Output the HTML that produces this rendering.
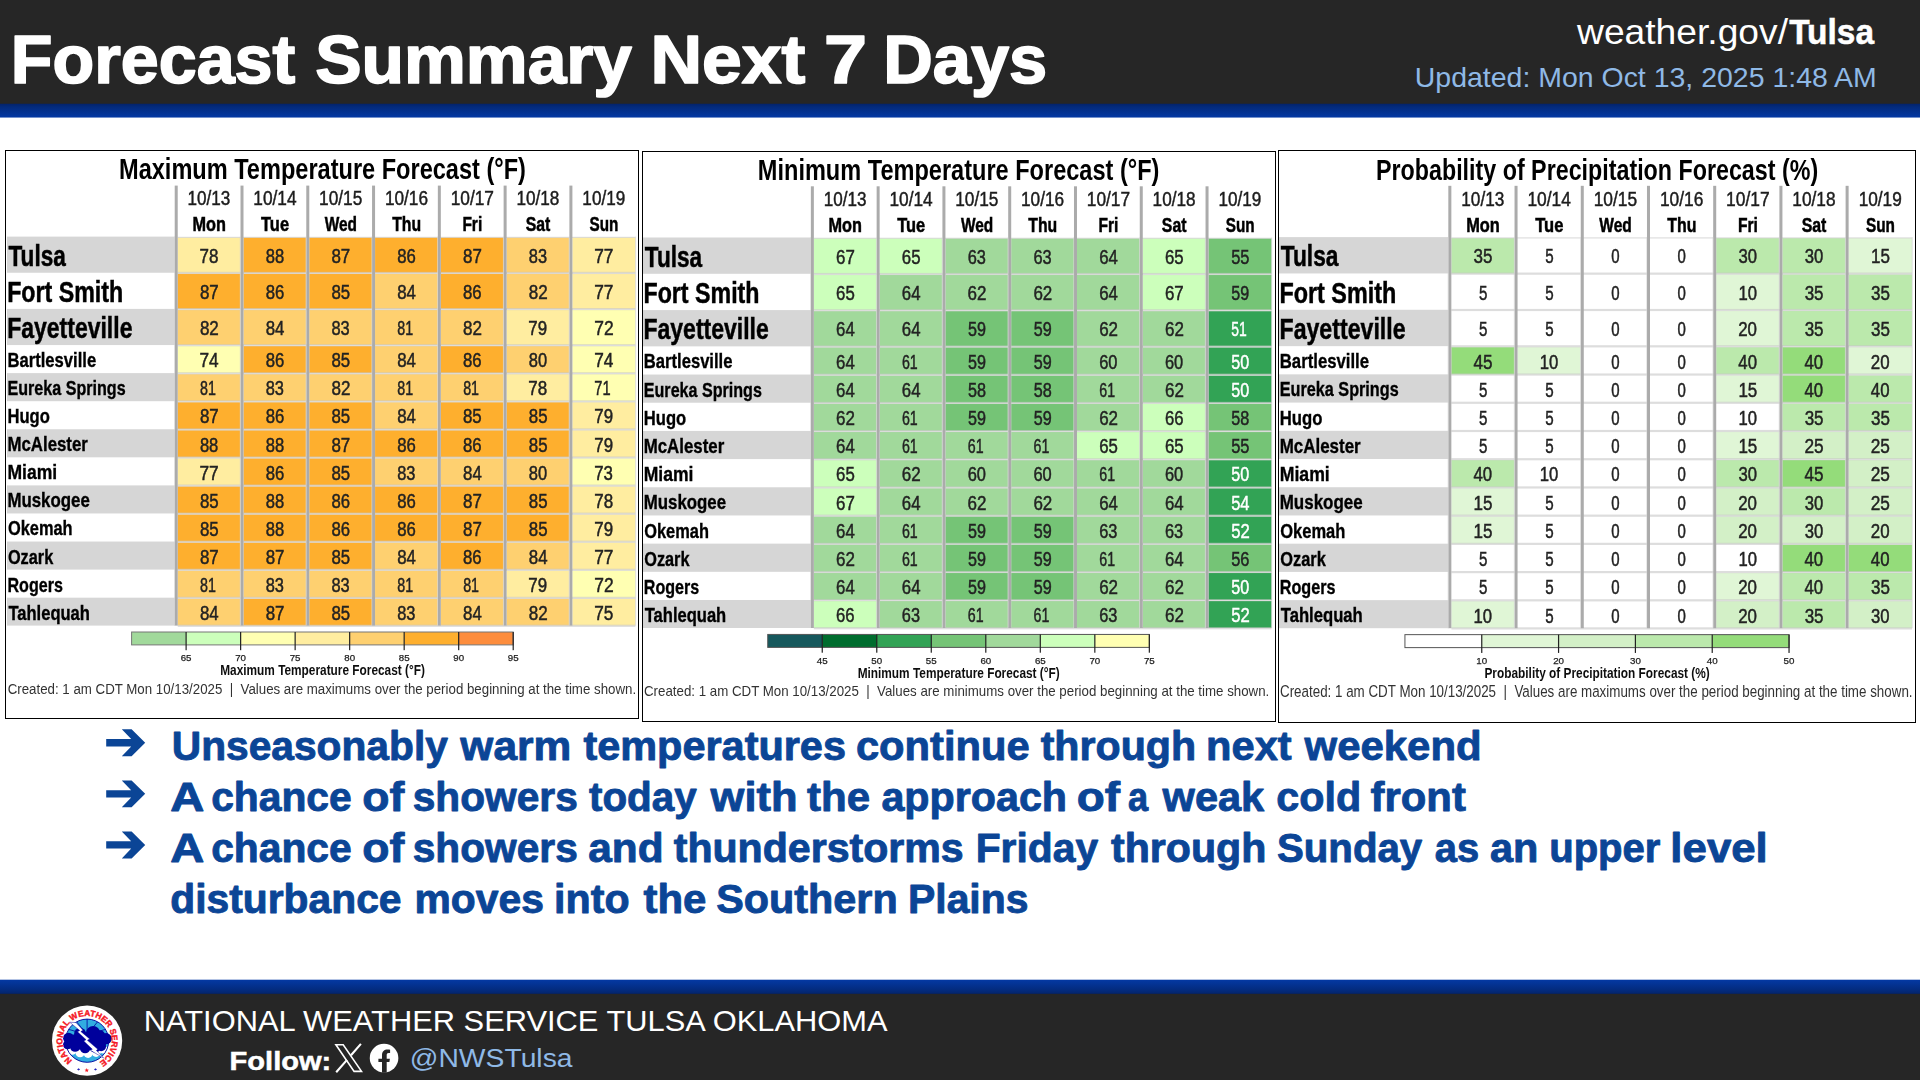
<!DOCTYPE html>
<html lang="en"><head><meta charset="utf-8"><title>Forecast Summary Next 7 Days</title>
<style>
html,body{margin:0;padding:0;background:#fff;width:1920px;height:1080px;overflow:hidden}
svg{display:block}
text{font-family:"Liberation Sans",sans-serif;white-space:pre}
</style></head><body>
<svg width="1920" height="1080" viewBox="0 0 1920 1080">
<defs>
<linearGradient id="g1" x1="0" y1="0" x2="0" y2="1"><stop offset="0" stop-color="#03236a"/><stop offset="0.25" stop-color="#032b7e"/><stop offset="1" stop-color="#0439a4"/></linearGradient>
<linearGradient id="g2" x1="0" y1="0" x2="0" y2="1"><stop offset="0" stop-color="#0439a4"/><stop offset="0.7" stop-color="#032b7e"/><stop offset="1" stop-color="#03236a"/></linearGradient>
<filter id="soft" filterUnits="userSpaceOnUse" x="0" y="140" width="1920" height="600"><feGaussianBlur stdDeviation="0.55"/></filter>
</defs>
<rect x="0" y="0" width="1920" height="1080" fill="#fff"/>
<rect x="0" y="0" width="1920" height="104" fill="#262626"/>
<rect x="0" y="103.75" width="1920" height="13.8" fill="url(#g1)"/>
<text y="83" font-size="68.2" font-weight="bold" fill="#fff" stroke="#fff" stroke-width="1.7" stroke-linejoin="round"><tspan x="10.89" textLength="284.4" lengthAdjust="spacingAndGlyphs">Forecast</tspan> <tspan x="315.25" textLength="316.78" lengthAdjust="spacingAndGlyphs">Summary</tspan> <tspan x="650.47" textLength="154.96" lengthAdjust="spacingAndGlyphs">Next</tspan> <tspan x="824.03" textLength="43.02" lengthAdjust="spacingAndGlyphs">7</tspan> <tspan x="883.26" textLength="164" lengthAdjust="spacingAndGlyphs">Days</tspan></text>
<text y="44.4" font-size="34.5" fill="#fff"><tspan x="1577.05" textLength="210.95" lengthAdjust="spacingAndGlyphs">weather.gov/</tspan></text>
<text y="44.4" font-size="34.5" font-weight="bold" fill="#fff" stroke="#fff" stroke-width="0.5"><tspan x="1789.17" textLength="84.86" lengthAdjust="spacingAndGlyphs">Tulsa</tspan></text>
<text y="86.8" font-size="27.6" fill="#8fb9e6"><tspan x="1414.8" textLength="462.03" lengthAdjust="spacingAndGlyphs">Updated: Mon Oct 13, 2025 1:48 AM</tspan></text>
<rect x="5.5" y="150.5" width="633" height="568" fill="#fff" stroke="#000" stroke-width="1"/>
<g filter="url(#soft)">
<text x="119.02" y="179.4" font-size="28.94" font-weight="bold" textLength="406.93" lengthAdjust="spacingAndGlyphs">Maximum Temperature Forecast (°F)</text>
<rect x="7" y="236.6" width="168.02" height="36.15" fill="#d6d6d6"/>
<rect x="7" y="308.9" width="168.02" height="36.15" fill="#d6d6d6"/>
<rect x="7" y="373.12" width="168.02" height="28.07" fill="#d6d6d6"/>
<rect x="7" y="429.26" width="168.02" height="28.07" fill="#d6d6d6"/>
<rect x="7" y="485.4" width="168.02" height="28.07" fill="#d6d6d6"/>
<rect x="7" y="541.54" width="168.02" height="28.07" fill="#d6d6d6"/>
<rect x="7" y="597.68" width="168.02" height="27.92" fill="#d6d6d6"/>
<rect x="177.72" y="237.6" width="62.78" height="35.15" fill="#ffeda0"/>
<rect x="243.5" y="237.6" width="62.78" height="35.15" fill="#feaf2e"/>
<rect x="309.28" y="237.6" width="62.78" height="35.15" fill="#feaf2e"/>
<rect x="375.06" y="237.6" width="62.78" height="35.15" fill="#feaf2e"/>
<rect x="440.84" y="237.6" width="62.78" height="35.15" fill="#feaf2e"/>
<rect x="506.62" y="237.6" width="62.78" height="35.15" fill="#fed070"/>
<rect x="572.4" y="237.6" width="63" height="35.15" fill="#ffeda0"/>
<rect x="177.72" y="273.75" width="62.78" height="35.15" fill="#feaf2e"/>
<rect x="243.5" y="273.75" width="62.78" height="35.15" fill="#feaf2e"/>
<rect x="309.28" y="273.75" width="62.78" height="35.15" fill="#feaf2e"/>
<rect x="375.06" y="273.75" width="62.78" height="35.15" fill="#fed070"/>
<rect x="440.84" y="273.75" width="62.78" height="35.15" fill="#feaf2e"/>
<rect x="506.62" y="273.75" width="62.78" height="35.15" fill="#fed070"/>
<rect x="572.4" y="273.75" width="63" height="35.15" fill="#ffeda0"/>
<rect x="177.72" y="309.9" width="62.78" height="35.15" fill="#fed070"/>
<rect x="243.5" y="309.9" width="62.78" height="35.15" fill="#fed070"/>
<rect x="309.28" y="309.9" width="62.78" height="35.15" fill="#fed070"/>
<rect x="375.06" y="309.9" width="62.78" height="35.15" fill="#fed070"/>
<rect x="440.84" y="309.9" width="62.78" height="35.15" fill="#fed070"/>
<rect x="506.62" y="309.9" width="62.78" height="35.15" fill="#ffeda0"/>
<rect x="572.4" y="309.9" width="63" height="35.15" fill="#ffffb2"/>
<rect x="177.72" y="346.05" width="62.78" height="27.07" fill="#ffffb2"/>
<rect x="243.5" y="346.05" width="62.78" height="27.07" fill="#feaf2e"/>
<rect x="309.28" y="346.05" width="62.78" height="27.07" fill="#feaf2e"/>
<rect x="375.06" y="346.05" width="62.78" height="27.07" fill="#fed070"/>
<rect x="440.84" y="346.05" width="62.78" height="27.07" fill="#feaf2e"/>
<rect x="506.62" y="346.05" width="62.78" height="27.07" fill="#fed070"/>
<rect x="572.4" y="346.05" width="63" height="27.07" fill="#ffffb2"/>
<rect x="177.72" y="374.12" width="62.78" height="27.07" fill="#fed070"/>
<rect x="243.5" y="374.12" width="62.78" height="27.07" fill="#fed070"/>
<rect x="309.28" y="374.12" width="62.78" height="27.07" fill="#fed070"/>
<rect x="375.06" y="374.12" width="62.78" height="27.07" fill="#fed070"/>
<rect x="440.84" y="374.12" width="62.78" height="27.07" fill="#fed070"/>
<rect x="506.62" y="374.12" width="62.78" height="27.07" fill="#ffeda0"/>
<rect x="572.4" y="374.12" width="63" height="27.07" fill="#ffffb2"/>
<rect x="177.72" y="402.19" width="62.78" height="27.07" fill="#feaf2e"/>
<rect x="243.5" y="402.19" width="62.78" height="27.07" fill="#feaf2e"/>
<rect x="309.28" y="402.19" width="62.78" height="27.07" fill="#feaf2e"/>
<rect x="375.06" y="402.19" width="62.78" height="27.07" fill="#fed070"/>
<rect x="440.84" y="402.19" width="62.78" height="27.07" fill="#feaf2e"/>
<rect x="506.62" y="402.19" width="62.78" height="27.07" fill="#feaf2e"/>
<rect x="572.4" y="402.19" width="63" height="27.07" fill="#ffeda0"/>
<rect x="177.72" y="430.26" width="62.78" height="27.07" fill="#feaf2e"/>
<rect x="243.5" y="430.26" width="62.78" height="27.07" fill="#feaf2e"/>
<rect x="309.28" y="430.26" width="62.78" height="27.07" fill="#feaf2e"/>
<rect x="375.06" y="430.26" width="62.78" height="27.07" fill="#feaf2e"/>
<rect x="440.84" y="430.26" width="62.78" height="27.07" fill="#feaf2e"/>
<rect x="506.62" y="430.26" width="62.78" height="27.07" fill="#feaf2e"/>
<rect x="572.4" y="430.26" width="63" height="27.07" fill="#ffeda0"/>
<rect x="177.72" y="458.33" width="62.78" height="27.07" fill="#ffeda0"/>
<rect x="243.5" y="458.33" width="62.78" height="27.07" fill="#feaf2e"/>
<rect x="309.28" y="458.33" width="62.78" height="27.07" fill="#feaf2e"/>
<rect x="375.06" y="458.33" width="62.78" height="27.07" fill="#fed070"/>
<rect x="440.84" y="458.33" width="62.78" height="27.07" fill="#fed070"/>
<rect x="506.62" y="458.33" width="62.78" height="27.07" fill="#fed070"/>
<rect x="572.4" y="458.33" width="63" height="27.07" fill="#ffffb2"/>
<rect x="177.72" y="486.4" width="62.78" height="27.07" fill="#feaf2e"/>
<rect x="243.5" y="486.4" width="62.78" height="27.07" fill="#feaf2e"/>
<rect x="309.28" y="486.4" width="62.78" height="27.07" fill="#feaf2e"/>
<rect x="375.06" y="486.4" width="62.78" height="27.07" fill="#feaf2e"/>
<rect x="440.84" y="486.4" width="62.78" height="27.07" fill="#feaf2e"/>
<rect x="506.62" y="486.4" width="62.78" height="27.07" fill="#feaf2e"/>
<rect x="572.4" y="486.4" width="63" height="27.07" fill="#ffeda0"/>
<rect x="177.72" y="514.47" width="62.78" height="27.07" fill="#feaf2e"/>
<rect x="243.5" y="514.47" width="62.78" height="27.07" fill="#feaf2e"/>
<rect x="309.28" y="514.47" width="62.78" height="27.07" fill="#feaf2e"/>
<rect x="375.06" y="514.47" width="62.78" height="27.07" fill="#feaf2e"/>
<rect x="440.84" y="514.47" width="62.78" height="27.07" fill="#feaf2e"/>
<rect x="506.62" y="514.47" width="62.78" height="27.07" fill="#feaf2e"/>
<rect x="572.4" y="514.47" width="63" height="27.07" fill="#ffeda0"/>
<rect x="177.72" y="542.54" width="62.78" height="27.07" fill="#feaf2e"/>
<rect x="243.5" y="542.54" width="62.78" height="27.07" fill="#feaf2e"/>
<rect x="309.28" y="542.54" width="62.78" height="27.07" fill="#feaf2e"/>
<rect x="375.06" y="542.54" width="62.78" height="27.07" fill="#fed070"/>
<rect x="440.84" y="542.54" width="62.78" height="27.07" fill="#feaf2e"/>
<rect x="506.62" y="542.54" width="62.78" height="27.07" fill="#fed070"/>
<rect x="572.4" y="542.54" width="63" height="27.07" fill="#ffeda0"/>
<rect x="177.72" y="570.61" width="62.78" height="27.07" fill="#fed070"/>
<rect x="243.5" y="570.61" width="62.78" height="27.07" fill="#fed070"/>
<rect x="309.28" y="570.61" width="62.78" height="27.07" fill="#fed070"/>
<rect x="375.06" y="570.61" width="62.78" height="27.07" fill="#fed070"/>
<rect x="440.84" y="570.61" width="62.78" height="27.07" fill="#fed070"/>
<rect x="506.62" y="570.61" width="62.78" height="27.07" fill="#ffeda0"/>
<rect x="572.4" y="570.61" width="63" height="27.07" fill="#ffffb2"/>
<rect x="177.72" y="598.68" width="62.78" height="26.92" fill="#fed070"/>
<rect x="243.5" y="598.68" width="62.78" height="26.92" fill="#feaf2e"/>
<rect x="309.28" y="598.68" width="62.78" height="26.92" fill="#feaf2e"/>
<rect x="375.06" y="598.68" width="62.78" height="26.92" fill="#fed070"/>
<rect x="440.84" y="598.68" width="62.78" height="26.92" fill="#fed070"/>
<rect x="506.62" y="598.68" width="62.78" height="26.92" fill="#fed070"/>
<rect x="572.4" y="598.68" width="63" height="26.92" fill="#ffeda0"/>
<rect x="177.72" y="236.8" width="457.68" height="1.2" fill="#c8c8c8" fill-opacity="0.6"/>
<rect x="177.72" y="271.85" width="457.68" height="2.2" fill="#c8c8c8" fill-opacity="0.62"/>
<rect x="177.72" y="308" width="457.68" height="2.2" fill="#c8c8c8" fill-opacity="0.62"/>
<rect x="177.72" y="344.15" width="457.68" height="2.2" fill="#c8c8c8" fill-opacity="0.62"/>
<rect x="177.72" y="372.22" width="457.68" height="2.2" fill="#c8c8c8" fill-opacity="0.62"/>
<rect x="177.72" y="400.29" width="457.68" height="2.2" fill="#c8c8c8" fill-opacity="0.62"/>
<rect x="177.72" y="428.36" width="457.68" height="2.2" fill="#c8c8c8" fill-opacity="0.62"/>
<rect x="177.72" y="456.43" width="457.68" height="2.2" fill="#c8c8c8" fill-opacity="0.62"/>
<rect x="177.72" y="484.5" width="457.68" height="2.2" fill="#c8c8c8" fill-opacity="0.62"/>
<rect x="177.72" y="512.57" width="457.68" height="2.2" fill="#c8c8c8" fill-opacity="0.62"/>
<rect x="177.72" y="540.64" width="457.68" height="2.2" fill="#c8c8c8" fill-opacity="0.62"/>
<rect x="177.72" y="568.71" width="457.68" height="2.2" fill="#c8c8c8" fill-opacity="0.62"/>
<rect x="177.72" y="596.78" width="457.68" height="2.2" fill="#c8c8c8" fill-opacity="0.62"/>
<rect x="177.72" y="624.7" width="457.68" height="2.2" fill="#c8c8c8" fill-opacity="0.62"/>
<rect x="174.72" y="185.6" width="3" height="440" fill="#ababab"/>
<rect x="174.02" y="236.6" width="0.8" height="389" fill="#d8d8d8" fill-opacity="0.7"/>
<rect x="240.5" y="185.6" width="3" height="440" fill="#ababab"/>
<rect x="239.8" y="236.6" width="0.8" height="389" fill="#d8d8d8" fill-opacity="0.7"/>
<rect x="306.28" y="185.6" width="3" height="440" fill="#ababab"/>
<rect x="305.58" y="236.6" width="0.8" height="389" fill="#d8d8d8" fill-opacity="0.7"/>
<rect x="372.06" y="185.6" width="3" height="440" fill="#ababab"/>
<rect x="371.36" y="236.6" width="0.8" height="389" fill="#d8d8d8" fill-opacity="0.7"/>
<rect x="437.84" y="185.6" width="3" height="440" fill="#ababab"/>
<rect x="437.14" y="236.6" width="0.8" height="389" fill="#d8d8d8" fill-opacity="0.7"/>
<rect x="503.62" y="185.6" width="3" height="440" fill="#ababab"/>
<rect x="502.92" y="236.6" width="0.8" height="389" fill="#d8d8d8" fill-opacity="0.7"/>
<rect x="569.4" y="185.6" width="3" height="440" fill="#ababab"/>
<rect x="568.7" y="236.6" width="0.8" height="389" fill="#d8d8d8" fill-opacity="0.7"/>
<rect x="635.1" y="236.6" width="1" height="389" fill="#d0d0d0" fill-opacity="0.6"/>
<text x="187.57" y="205" font-size="19.33" textLength="42.77" lengthAdjust="spacingAndGlyphs" fill="#1c1c1c" stroke="#1c1c1c" stroke-width="0.45">10/13</text>
<text x="192.42" y="231.2" font-size="20.05" font-weight="bold" textLength="33.46" lengthAdjust="spacingAndGlyphs" stroke="#000" stroke-width="0.5">Mon</text>
<text x="253.34" y="205" font-size="19.33" textLength="43.21" lengthAdjust="spacingAndGlyphs" fill="#1c1c1c" stroke="#1c1c1c" stroke-width="0.45">10/14</text>
<text x="261.06" y="231.2" font-size="20.05" font-weight="bold" textLength="27.97" lengthAdjust="spacingAndGlyphs" stroke="#000" stroke-width="0.5">Tue</text>
<text x="319.12" y="205" font-size="19.33" textLength="43.21" lengthAdjust="spacingAndGlyphs" fill="#1c1c1c" stroke="#1c1c1c" stroke-width="0.45">10/15</text>
<text x="324.76" y="231.2" font-size="20.05" font-weight="bold" textLength="32.26" lengthAdjust="spacingAndGlyphs" stroke="#000" stroke-width="0.5">Wed</text>
<text x="384.9" y="205" font-size="19.33" textLength="43.1" lengthAdjust="spacingAndGlyphs" fill="#1c1c1c" stroke="#1c1c1c" stroke-width="0.45">10/16</text>
<text x="392.2" y="231.2" font-size="20.05" font-weight="bold" textLength="28.93" lengthAdjust="spacingAndGlyphs" stroke="#000" stroke-width="0.5">Thu</text>
<text x="450.67" y="205" font-size="19.33" textLength="43.31" lengthAdjust="spacingAndGlyphs" fill="#1c1c1c" stroke="#1c1c1c" stroke-width="0.45">10/17</text>
<text x="462.39" y="231.2" font-size="20.05" font-weight="bold" textLength="19.86" lengthAdjust="spacingAndGlyphs" stroke="#000" stroke-width="0.5">Fri</text>
<text x="516.47" y="205" font-size="19.33" textLength="42.93" lengthAdjust="spacingAndGlyphs" fill="#1c1c1c" stroke="#1c1c1c" stroke-width="0.45">10/18</text>
<text x="525.72" y="231.2" font-size="20.05" font-weight="bold" textLength="24.6" lengthAdjust="spacingAndGlyphs" stroke="#000" stroke-width="0.5">Sat</text>
<text x="582.36" y="205" font-size="19.33" textLength="42.85" lengthAdjust="spacingAndGlyphs" fill="#1c1c1c" stroke="#1c1c1c" stroke-width="0.45">10/19</text>
<text x="589.62" y="231.2" font-size="20.05" font-weight="bold" textLength="28.81" lengthAdjust="spacingAndGlyphs" stroke="#000" stroke-width="0.5">Sun</text>
<text x="8.5" y="265.6" font-size="29.56" font-weight="bold" textLength="57.31" lengthAdjust="spacingAndGlyphs" stroke="#000" stroke-width="0.5">Tulsa</text>
<text x="199.46" y="262.7" font-size="20.57" textLength="18.87" lengthAdjust="spacingAndGlyphs" fill="#222" stroke="#222" stroke-width="0.5">78</text>
<text x="265.69" y="262.7" font-size="20.57" textLength="18.4" lengthAdjust="spacingAndGlyphs" fill="#222" stroke="#222" stroke-width="0.5">88</text>
<text x="331.45" y="262.7" font-size="20.57" textLength="18.81" lengthAdjust="spacingAndGlyphs" fill="#222" stroke="#222" stroke-width="0.5">87</text>
<text x="397.24" y="262.7" font-size="20.57" textLength="18.59" lengthAdjust="spacingAndGlyphs" fill="#222" stroke="#222" stroke-width="0.5">86</text>
<text x="463.01" y="262.7" font-size="20.57" textLength="18.81" lengthAdjust="spacingAndGlyphs" fill="#222" stroke="#222" stroke-width="0.5">87</text>
<text x="528.82" y="262.7" font-size="20.57" textLength="18.23" lengthAdjust="spacingAndGlyphs" fill="#222" stroke="#222" stroke-width="0.5">83</text>
<text x="594.23" y="262.7" font-size="20.57" textLength="19.29" lengthAdjust="spacingAndGlyphs" fill="#222" stroke="#222" stroke-width="0.5">77</text>
<text x="7.2" y="301.75" font-size="29.56" font-weight="bold" textLength="115.99" lengthAdjust="spacingAndGlyphs" stroke="#000" stroke-width="0.5">Fort Smith</text>
<text x="199.89" y="298.85" font-size="20.57" textLength="18.81" lengthAdjust="spacingAndGlyphs" fill="#222" stroke="#222" stroke-width="0.5">87</text>
<text x="265.68" y="298.85" font-size="20.57" textLength="18.59" lengthAdjust="spacingAndGlyphs" fill="#222" stroke="#222" stroke-width="0.5">86</text>
<text x="331.46" y="298.85" font-size="20.57" textLength="18.71" lengthAdjust="spacingAndGlyphs" fill="#222" stroke="#222" stroke-width="0.5">85</text>
<text x="397.24" y="298.85" font-size="20.57" textLength="18.73" lengthAdjust="spacingAndGlyphs" fill="#222" stroke="#222" stroke-width="0.5">84</text>
<text x="463.02" y="298.85" font-size="20.57" textLength="18.59" lengthAdjust="spacingAndGlyphs" fill="#222" stroke="#222" stroke-width="0.5">86</text>
<text x="528.79" y="298.85" font-size="20.57" textLength="18.92" lengthAdjust="spacingAndGlyphs" fill="#222" stroke="#222" stroke-width="0.5">82</text>
<text x="594.23" y="298.85" font-size="20.57" textLength="19.29" lengthAdjust="spacingAndGlyphs" fill="#222" stroke="#222" stroke-width="0.5">77</text>
<text x="7.21" y="337.9" font-size="29.56" font-weight="bold" textLength="125.22" lengthAdjust="spacingAndGlyphs" stroke="#000" stroke-width="0.5">Fayetteville</text>
<text x="199.89" y="335" font-size="20.57" textLength="18.92" lengthAdjust="spacingAndGlyphs" fill="#222" stroke="#222" stroke-width="0.5">82</text>
<text x="265.68" y="335" font-size="20.57" textLength="18.73" lengthAdjust="spacingAndGlyphs" fill="#222" stroke="#222" stroke-width="0.5">84</text>
<text x="331.48" y="335" font-size="20.57" textLength="18.23" lengthAdjust="spacingAndGlyphs" fill="#222" stroke="#222" stroke-width="0.5">83</text>
<text x="397.35" y="335" font-size="20.57" textLength="15.83" lengthAdjust="spacingAndGlyphs" fill="#222" stroke="#222" stroke-width="0.5">81</text>
<text x="463.01" y="335" font-size="20.57" textLength="18.92" lengthAdjust="spacingAndGlyphs" fill="#222" stroke="#222" stroke-width="0.5">82</text>
<text x="528.36" y="335" font-size="20.57" textLength="18.77" lengthAdjust="spacingAndGlyphs" fill="#222" stroke="#222" stroke-width="0.5">79</text>
<text x="594.22" y="335" font-size="20.57" textLength="19.4" lengthAdjust="spacingAndGlyphs" fill="#222" stroke="#222" stroke-width="0.5">72</text>
<text x="7.46" y="367.05" font-size="20.26" font-weight="bold" textLength="88.73" lengthAdjust="spacingAndGlyphs" stroke="#000" stroke-width="0.35">Bartlesville</text>
<text x="199.44" y="367.35" font-size="20.57" textLength="19.2" lengthAdjust="spacingAndGlyphs" fill="#222" stroke="#222" stroke-width="0.5">74</text>
<text x="265.68" y="367.35" font-size="20.57" textLength="18.59" lengthAdjust="spacingAndGlyphs" fill="#222" stroke="#222" stroke-width="0.5">86</text>
<text x="331.46" y="367.35" font-size="20.57" textLength="18.71" lengthAdjust="spacingAndGlyphs" fill="#222" stroke="#222" stroke-width="0.5">85</text>
<text x="397.24" y="367.35" font-size="20.57" textLength="18.73" lengthAdjust="spacingAndGlyphs" fill="#222" stroke="#222" stroke-width="0.5">84</text>
<text x="463.02" y="367.35" font-size="20.57" textLength="18.59" lengthAdjust="spacingAndGlyphs" fill="#222" stroke="#222" stroke-width="0.5">86</text>
<text x="528.81" y="367.35" font-size="20.57" textLength="18.33" lengthAdjust="spacingAndGlyphs" fill="#222" stroke="#222" stroke-width="0.5">80</text>
<text x="594.23" y="367.35" font-size="20.57" textLength="19.2" lengthAdjust="spacingAndGlyphs" fill="#222" stroke="#222" stroke-width="0.5">74</text>
<text x="7.5" y="395.12" font-size="20.26" font-weight="bold" textLength="118.09" lengthAdjust="spacingAndGlyphs" stroke="#000" stroke-width="0.35">Eureka Springs</text>
<text x="200.01" y="395.42" font-size="20.57" textLength="15.83" lengthAdjust="spacingAndGlyphs" fill="#222" stroke="#222" stroke-width="0.5">81</text>
<text x="265.7" y="395.42" font-size="20.57" textLength="18.23" lengthAdjust="spacingAndGlyphs" fill="#222" stroke="#222" stroke-width="0.5">83</text>
<text x="331.45" y="395.42" font-size="20.57" textLength="18.92" lengthAdjust="spacingAndGlyphs" fill="#222" stroke="#222" stroke-width="0.5">82</text>
<text x="397.35" y="395.42" font-size="20.57" textLength="15.83" lengthAdjust="spacingAndGlyphs" fill="#222" stroke="#222" stroke-width="0.5">81</text>
<text x="463.13" y="395.42" font-size="20.57" textLength="15.83" lengthAdjust="spacingAndGlyphs" fill="#222" stroke="#222" stroke-width="0.5">81</text>
<text x="528.36" y="395.42" font-size="20.57" textLength="18.87" lengthAdjust="spacingAndGlyphs" fill="#222" stroke="#222" stroke-width="0.5">78</text>
<text x="594.37" y="395.42" font-size="20.57" textLength="16.29" lengthAdjust="spacingAndGlyphs" fill="#222" stroke="#222" stroke-width="0.5">71</text>
<text x="7.46" y="423.19" font-size="20.26" font-weight="bold" textLength="42.41" lengthAdjust="spacingAndGlyphs" stroke="#000" stroke-width="0.35">Hugo</text>
<text x="199.89" y="423.49" font-size="20.57" textLength="18.81" lengthAdjust="spacingAndGlyphs" fill="#222" stroke="#222" stroke-width="0.5">87</text>
<text x="265.68" y="423.49" font-size="20.57" textLength="18.59" lengthAdjust="spacingAndGlyphs" fill="#222" stroke="#222" stroke-width="0.5">86</text>
<text x="331.46" y="423.49" font-size="20.57" textLength="18.71" lengthAdjust="spacingAndGlyphs" fill="#222" stroke="#222" stroke-width="0.5">85</text>
<text x="397.24" y="423.49" font-size="20.57" textLength="18.73" lengthAdjust="spacingAndGlyphs" fill="#222" stroke="#222" stroke-width="0.5">84</text>
<text x="463.02" y="423.49" font-size="20.57" textLength="18.71" lengthAdjust="spacingAndGlyphs" fill="#222" stroke="#222" stroke-width="0.5">85</text>
<text x="528.8" y="423.49" font-size="20.57" textLength="18.71" lengthAdjust="spacingAndGlyphs" fill="#222" stroke="#222" stroke-width="0.5">85</text>
<text x="594.25" y="423.49" font-size="20.57" textLength="18.77" lengthAdjust="spacingAndGlyphs" fill="#222" stroke="#222" stroke-width="0.5">79</text>
<text x="7.45" y="451.26" font-size="20.26" font-weight="bold" textLength="80.43" lengthAdjust="spacingAndGlyphs" stroke="#000" stroke-width="0.35">McAlester</text>
<text x="199.91" y="451.56" font-size="20.57" textLength="18.4" lengthAdjust="spacingAndGlyphs" fill="#222" stroke="#222" stroke-width="0.5">88</text>
<text x="265.69" y="451.56" font-size="20.57" textLength="18.4" lengthAdjust="spacingAndGlyphs" fill="#222" stroke="#222" stroke-width="0.5">88</text>
<text x="331.45" y="451.56" font-size="20.57" textLength="18.81" lengthAdjust="spacingAndGlyphs" fill="#222" stroke="#222" stroke-width="0.5">87</text>
<text x="397.24" y="451.56" font-size="20.57" textLength="18.59" lengthAdjust="spacingAndGlyphs" fill="#222" stroke="#222" stroke-width="0.5">86</text>
<text x="463.02" y="451.56" font-size="20.57" textLength="18.59" lengthAdjust="spacingAndGlyphs" fill="#222" stroke="#222" stroke-width="0.5">86</text>
<text x="528.8" y="451.56" font-size="20.57" textLength="18.71" lengthAdjust="spacingAndGlyphs" fill="#222" stroke="#222" stroke-width="0.5">85</text>
<text x="594.25" y="451.56" font-size="20.57" textLength="18.77" lengthAdjust="spacingAndGlyphs" fill="#222" stroke="#222" stroke-width="0.5">79</text>
<text x="7.4" y="479.33" font-size="20.26" font-weight="bold" textLength="49.77" lengthAdjust="spacingAndGlyphs" stroke="#000" stroke-width="0.35">Miami</text>
<text x="199.44" y="479.63" font-size="20.57" textLength="19.29" lengthAdjust="spacingAndGlyphs" fill="#222" stroke="#222" stroke-width="0.5">77</text>
<text x="265.68" y="479.63" font-size="20.57" textLength="18.59" lengthAdjust="spacingAndGlyphs" fill="#222" stroke="#222" stroke-width="0.5">86</text>
<text x="331.46" y="479.63" font-size="20.57" textLength="18.71" lengthAdjust="spacingAndGlyphs" fill="#222" stroke="#222" stroke-width="0.5">85</text>
<text x="397.26" y="479.63" font-size="20.57" textLength="18.23" lengthAdjust="spacingAndGlyphs" fill="#222" stroke="#222" stroke-width="0.5">83</text>
<text x="463.02" y="479.63" font-size="20.57" textLength="18.73" lengthAdjust="spacingAndGlyphs" fill="#222" stroke="#222" stroke-width="0.5">84</text>
<text x="528.81" y="479.63" font-size="20.57" textLength="18.33" lengthAdjust="spacingAndGlyphs" fill="#222" stroke="#222" stroke-width="0.5">80</text>
<text x="594.25" y="479.63" font-size="20.57" textLength="18.7" lengthAdjust="spacingAndGlyphs" fill="#222" stroke="#222" stroke-width="0.5">73</text>
<text x="7.45" y="507.4" font-size="20.26" font-weight="bold" textLength="82.35" lengthAdjust="spacingAndGlyphs" stroke="#000" stroke-width="0.35">Muskogee</text>
<text x="199.9" y="507.7" font-size="20.57" textLength="18.71" lengthAdjust="spacingAndGlyphs" fill="#222" stroke="#222" stroke-width="0.5">85</text>
<text x="265.69" y="507.7" font-size="20.57" textLength="18.4" lengthAdjust="spacingAndGlyphs" fill="#222" stroke="#222" stroke-width="0.5">88</text>
<text x="331.46" y="507.7" font-size="20.57" textLength="18.59" lengthAdjust="spacingAndGlyphs" fill="#222" stroke="#222" stroke-width="0.5">86</text>
<text x="397.24" y="507.7" font-size="20.57" textLength="18.59" lengthAdjust="spacingAndGlyphs" fill="#222" stroke="#222" stroke-width="0.5">86</text>
<text x="463.01" y="507.7" font-size="20.57" textLength="18.81" lengthAdjust="spacingAndGlyphs" fill="#222" stroke="#222" stroke-width="0.5">87</text>
<text x="528.8" y="507.7" font-size="20.57" textLength="18.71" lengthAdjust="spacingAndGlyphs" fill="#222" stroke="#222" stroke-width="0.5">85</text>
<text x="594.25" y="507.7" font-size="20.57" textLength="18.87" lengthAdjust="spacingAndGlyphs" fill="#222" stroke="#222" stroke-width="0.5">78</text>
<text x="7.9" y="535.47" font-size="20.26" font-weight="bold" textLength="64.74" lengthAdjust="spacingAndGlyphs" stroke="#000" stroke-width="0.35">Okemah</text>
<text x="199.9" y="535.77" font-size="20.57" textLength="18.71" lengthAdjust="spacingAndGlyphs" fill="#222" stroke="#222" stroke-width="0.5">85</text>
<text x="265.69" y="535.77" font-size="20.57" textLength="18.4" lengthAdjust="spacingAndGlyphs" fill="#222" stroke="#222" stroke-width="0.5">88</text>
<text x="331.46" y="535.77" font-size="20.57" textLength="18.59" lengthAdjust="spacingAndGlyphs" fill="#222" stroke="#222" stroke-width="0.5">86</text>
<text x="397.24" y="535.77" font-size="20.57" textLength="18.59" lengthAdjust="spacingAndGlyphs" fill="#222" stroke="#222" stroke-width="0.5">86</text>
<text x="463.01" y="535.77" font-size="20.57" textLength="18.81" lengthAdjust="spacingAndGlyphs" fill="#222" stroke="#222" stroke-width="0.5">87</text>
<text x="528.8" y="535.77" font-size="20.57" textLength="18.71" lengthAdjust="spacingAndGlyphs" fill="#222" stroke="#222" stroke-width="0.5">85</text>
<text x="594.25" y="535.77" font-size="20.57" textLength="18.77" lengthAdjust="spacingAndGlyphs" fill="#222" stroke="#222" stroke-width="0.5">79</text>
<text x="7.91" y="563.54" font-size="20.26" font-weight="bold" textLength="45.3" lengthAdjust="spacingAndGlyphs" stroke="#000" stroke-width="0.35">Ozark</text>
<text x="199.89" y="563.84" font-size="20.57" textLength="18.81" lengthAdjust="spacingAndGlyphs" fill="#222" stroke="#222" stroke-width="0.5">87</text>
<text x="265.67" y="563.84" font-size="20.57" textLength="18.81" lengthAdjust="spacingAndGlyphs" fill="#222" stroke="#222" stroke-width="0.5">87</text>
<text x="331.46" y="563.84" font-size="20.57" textLength="18.71" lengthAdjust="spacingAndGlyphs" fill="#222" stroke="#222" stroke-width="0.5">85</text>
<text x="397.24" y="563.84" font-size="20.57" textLength="18.73" lengthAdjust="spacingAndGlyphs" fill="#222" stroke="#222" stroke-width="0.5">84</text>
<text x="463.02" y="563.84" font-size="20.57" textLength="18.59" lengthAdjust="spacingAndGlyphs" fill="#222" stroke="#222" stroke-width="0.5">86</text>
<text x="528.8" y="563.84" font-size="20.57" textLength="18.73" lengthAdjust="spacingAndGlyphs" fill="#222" stroke="#222" stroke-width="0.5">84</text>
<text x="594.23" y="563.84" font-size="20.57" textLength="19.29" lengthAdjust="spacingAndGlyphs" fill="#222" stroke="#222" stroke-width="0.5">77</text>
<text x="7.5" y="591.61" font-size="20.26" font-weight="bold" textLength="55.38" lengthAdjust="spacingAndGlyphs" stroke="#000" stroke-width="0.35">Rogers</text>
<text x="200.01" y="591.91" font-size="20.57" textLength="15.83" lengthAdjust="spacingAndGlyphs" fill="#222" stroke="#222" stroke-width="0.5">81</text>
<text x="265.7" y="591.91" font-size="20.57" textLength="18.23" lengthAdjust="spacingAndGlyphs" fill="#222" stroke="#222" stroke-width="0.5">83</text>
<text x="331.48" y="591.91" font-size="20.57" textLength="18.23" lengthAdjust="spacingAndGlyphs" fill="#222" stroke="#222" stroke-width="0.5">83</text>
<text x="397.35" y="591.91" font-size="20.57" textLength="15.83" lengthAdjust="spacingAndGlyphs" fill="#222" stroke="#222" stroke-width="0.5">81</text>
<text x="463.13" y="591.91" font-size="20.57" textLength="15.83" lengthAdjust="spacingAndGlyphs" fill="#222" stroke="#222" stroke-width="0.5">81</text>
<text x="528.36" y="591.91" font-size="20.57" textLength="18.77" lengthAdjust="spacingAndGlyphs" fill="#222" stroke="#222" stroke-width="0.5">79</text>
<text x="594.22" y="591.91" font-size="20.57" textLength="19.4" lengthAdjust="spacingAndGlyphs" fill="#222" stroke="#222" stroke-width="0.5">72</text>
<text x="8.39" y="619.68" font-size="20.26" font-weight="bold" textLength="81.56" lengthAdjust="spacingAndGlyphs" stroke="#000" stroke-width="0.35">Tahlequah</text>
<text x="199.9" y="619.98" font-size="20.57" textLength="18.73" lengthAdjust="spacingAndGlyphs" fill="#222" stroke="#222" stroke-width="0.5">84</text>
<text x="265.67" y="619.98" font-size="20.57" textLength="18.81" lengthAdjust="spacingAndGlyphs" fill="#222" stroke="#222" stroke-width="0.5">87</text>
<text x="331.46" y="619.98" font-size="20.57" textLength="18.71" lengthAdjust="spacingAndGlyphs" fill="#222" stroke="#222" stroke-width="0.5">85</text>
<text x="397.26" y="619.98" font-size="20.57" textLength="18.23" lengthAdjust="spacingAndGlyphs" fill="#222" stroke="#222" stroke-width="0.5">83</text>
<text x="463.02" y="619.98" font-size="20.57" textLength="18.73" lengthAdjust="spacingAndGlyphs" fill="#222" stroke="#222" stroke-width="0.5">84</text>
<text x="528.79" y="619.98" font-size="20.57" textLength="18.92" lengthAdjust="spacingAndGlyphs" fill="#222" stroke="#222" stroke-width="0.5">82</text>
<text x="594.23" y="619.98" font-size="20.57" textLength="19.18" lengthAdjust="spacingAndGlyphs" fill="#222" stroke="#222" stroke-width="0.5">75</text>
<rect x="131.6" y="632" width="54.71" height="12.9" fill="#a1d99b"/>
<rect x="186.11" y="632" width="54.71" height="12.9" fill="#ccffbb"/>
<rect x="240.63" y="632" width="54.71" height="12.9" fill="#ffffb2"/>
<rect x="295.14" y="632" width="54.71" height="12.9" fill="#ffeda0"/>
<rect x="349.66" y="632" width="54.71" height="12.9" fill="#fed070"/>
<rect x="404.17" y="632" width="54.71" height="12.9" fill="#feaf2e"/>
<rect x="458.69" y="632" width="54.71" height="12.9" fill="#fd8d3c"/>
<rect x="131.6" y="632" width="381.6" height="12.9" fill="none" stroke="#777" stroke-width="1"/>
<rect x="185.51" y="632" width="1.2" height="18.2" fill="#222"/>
<text x="186.11" y="661.2" font-size="9.7" text-anchor="middle" fill="#222" stroke="#222" stroke-width="0.25">65</text>
<rect x="240.03" y="632" width="1.2" height="18.2" fill="#222"/>
<text x="240.63" y="661.2" font-size="9.7" text-anchor="middle" fill="#222" stroke="#222" stroke-width="0.25">70</text>
<rect x="294.54" y="632" width="1.2" height="18.2" fill="#222"/>
<text x="295.14" y="661.2" font-size="9.7" text-anchor="middle" fill="#222" stroke="#222" stroke-width="0.25">75</text>
<rect x="349.06" y="632" width="1.2" height="18.2" fill="#222"/>
<text x="349.66" y="661.2" font-size="9.7" text-anchor="middle" fill="#222" stroke="#222" stroke-width="0.25">80</text>
<rect x="403.57" y="632" width="1.2" height="18.2" fill="#222"/>
<text x="404.17" y="661.2" font-size="9.7" text-anchor="middle" fill="#222" stroke="#222" stroke-width="0.25">85</text>
<rect x="458.09" y="632" width="1.2" height="18.2" fill="#222"/>
<text x="458.69" y="661.2" font-size="9.7" text-anchor="middle" fill="#222" stroke="#222" stroke-width="0.25">90</text>
<rect x="512.6" y="632" width="1.2" height="18.2" fill="#222"/>
<text x="513.2" y="661.2" font-size="9.7" text-anchor="middle" fill="#222" stroke="#222" stroke-width="0.25">95</text>
<text x="220.23" y="675.4" font-size="14.47" font-weight="bold" textLength="204.61" lengthAdjust="spacingAndGlyphs" fill="#111">Maximum Temperature Forecast (°F)</text>
<text x="7.7" y="693.7" font-size="15.5" textLength="628.39" lengthAdjust="spacingAndGlyphs" fill="#333">Created: 1 am CDT Mon 10/13/2025  |  Values are maximums over the period beginning at the time shown.</text>
</g>
<rect x="642.5" y="151.5" width="633" height="570" fill="#fff" stroke="#000" stroke-width="1"/>
<g filter="url(#soft)">
<text x="757.83" y="180.08" font-size="29.05" font-weight="bold" textLength="401.6" lengthAdjust="spacingAndGlyphs">Minimum Temperature Forecast (°F)</text>
<rect x="643" y="237.5" width="168.16" height="36.29" fill="#d6d6d6"/>
<rect x="643" y="310.08" width="168.16" height="36.29" fill="#d6d6d6"/>
<rect x="643" y="374.55" width="168.16" height="28.18" fill="#d6d6d6"/>
<rect x="643" y="430.91" width="168.16" height="28.18" fill="#d6d6d6"/>
<rect x="643" y="487.27" width="168.16" height="28.18" fill="#d6d6d6"/>
<rect x="643" y="543.63" width="168.16" height="28.18" fill="#d6d6d6"/>
<rect x="643" y="599.99" width="168.16" height="28.03" fill="#d6d6d6"/>
<rect x="813.86" y="238.5" width="62.78" height="35.29" fill="#ccffbb"/>
<rect x="879.64" y="238.5" width="62.78" height="35.29" fill="#ccffbb"/>
<rect x="945.42" y="238.5" width="62.78" height="35.29" fill="#a1d99b"/>
<rect x="1011.2" y="238.5" width="62.78" height="35.29" fill="#a1d99b"/>
<rect x="1076.98" y="238.5" width="62.78" height="35.29" fill="#a1d99b"/>
<rect x="1142.76" y="238.5" width="62.78" height="35.29" fill="#ccffbb"/>
<rect x="1208.54" y="238.5" width="63" height="35.29" fill="#74c476"/>
<rect x="813.86" y="274.79" width="62.78" height="35.29" fill="#ccffbb"/>
<rect x="879.64" y="274.79" width="62.78" height="35.29" fill="#a1d99b"/>
<rect x="945.42" y="274.79" width="62.78" height="35.29" fill="#a1d99b"/>
<rect x="1011.2" y="274.79" width="62.78" height="35.29" fill="#a1d99b"/>
<rect x="1076.98" y="274.79" width="62.78" height="35.29" fill="#a1d99b"/>
<rect x="1142.76" y="274.79" width="62.78" height="35.29" fill="#ccffbb"/>
<rect x="1208.54" y="274.79" width="63" height="35.29" fill="#74c476"/>
<rect x="813.86" y="311.09" width="62.78" height="35.29" fill="#a1d99b"/>
<rect x="879.64" y="311.09" width="62.78" height="35.29" fill="#a1d99b"/>
<rect x="945.42" y="311.09" width="62.78" height="35.29" fill="#74c476"/>
<rect x="1011.2" y="311.09" width="62.78" height="35.29" fill="#74c476"/>
<rect x="1076.98" y="311.09" width="62.78" height="35.29" fill="#a1d99b"/>
<rect x="1142.76" y="311.09" width="62.78" height="35.29" fill="#a1d99b"/>
<rect x="1208.54" y="311.09" width="63" height="35.29" fill="#31a354"/>
<rect x="813.86" y="347.38" width="62.78" height="27.18" fill="#a1d99b"/>
<rect x="879.64" y="347.38" width="62.78" height="27.18" fill="#a1d99b"/>
<rect x="945.42" y="347.38" width="62.78" height="27.18" fill="#74c476"/>
<rect x="1011.2" y="347.38" width="62.78" height="27.18" fill="#74c476"/>
<rect x="1076.98" y="347.38" width="62.78" height="27.18" fill="#a1d99b"/>
<rect x="1142.76" y="347.38" width="62.78" height="27.18" fill="#a1d99b"/>
<rect x="1208.54" y="347.38" width="63" height="27.18" fill="#31a354"/>
<rect x="813.86" y="375.56" width="62.78" height="27.18" fill="#a1d99b"/>
<rect x="879.64" y="375.56" width="62.78" height="27.18" fill="#a1d99b"/>
<rect x="945.42" y="375.56" width="62.78" height="27.18" fill="#74c476"/>
<rect x="1011.2" y="375.56" width="62.78" height="27.18" fill="#74c476"/>
<rect x="1076.98" y="375.56" width="62.78" height="27.18" fill="#a1d99b"/>
<rect x="1142.76" y="375.56" width="62.78" height="27.18" fill="#a1d99b"/>
<rect x="1208.54" y="375.56" width="63" height="27.18" fill="#31a354"/>
<rect x="813.86" y="403.74" width="62.78" height="27.18" fill="#a1d99b"/>
<rect x="879.64" y="403.74" width="62.78" height="27.18" fill="#a1d99b"/>
<rect x="945.42" y="403.74" width="62.78" height="27.18" fill="#74c476"/>
<rect x="1011.2" y="403.74" width="62.78" height="27.18" fill="#74c476"/>
<rect x="1076.98" y="403.74" width="62.78" height="27.18" fill="#a1d99b"/>
<rect x="1142.76" y="403.74" width="62.78" height="27.18" fill="#ccffbb"/>
<rect x="1208.54" y="403.74" width="63" height="27.18" fill="#74c476"/>
<rect x="813.86" y="431.92" width="62.78" height="27.18" fill="#a1d99b"/>
<rect x="879.64" y="431.92" width="62.78" height="27.18" fill="#a1d99b"/>
<rect x="945.42" y="431.92" width="62.78" height="27.18" fill="#a1d99b"/>
<rect x="1011.2" y="431.92" width="62.78" height="27.18" fill="#a1d99b"/>
<rect x="1076.98" y="431.92" width="62.78" height="27.18" fill="#ccffbb"/>
<rect x="1142.76" y="431.92" width="62.78" height="27.18" fill="#ccffbb"/>
<rect x="1208.54" y="431.92" width="63" height="27.18" fill="#74c476"/>
<rect x="813.86" y="460.09" width="62.78" height="27.18" fill="#ccffbb"/>
<rect x="879.64" y="460.09" width="62.78" height="27.18" fill="#a1d99b"/>
<rect x="945.42" y="460.09" width="62.78" height="27.18" fill="#a1d99b"/>
<rect x="1011.2" y="460.09" width="62.78" height="27.18" fill="#a1d99b"/>
<rect x="1076.98" y="460.09" width="62.78" height="27.18" fill="#a1d99b"/>
<rect x="1142.76" y="460.09" width="62.78" height="27.18" fill="#a1d99b"/>
<rect x="1208.54" y="460.09" width="63" height="27.18" fill="#31a354"/>
<rect x="813.86" y="488.27" width="62.78" height="27.18" fill="#ccffbb"/>
<rect x="879.64" y="488.27" width="62.78" height="27.18" fill="#a1d99b"/>
<rect x="945.42" y="488.27" width="62.78" height="27.18" fill="#a1d99b"/>
<rect x="1011.2" y="488.27" width="62.78" height="27.18" fill="#a1d99b"/>
<rect x="1076.98" y="488.27" width="62.78" height="27.18" fill="#a1d99b"/>
<rect x="1142.76" y="488.27" width="62.78" height="27.18" fill="#a1d99b"/>
<rect x="1208.54" y="488.27" width="63" height="27.18" fill="#31a354"/>
<rect x="813.86" y="516.45" width="62.78" height="27.18" fill="#a1d99b"/>
<rect x="879.64" y="516.45" width="62.78" height="27.18" fill="#a1d99b"/>
<rect x="945.42" y="516.45" width="62.78" height="27.18" fill="#74c476"/>
<rect x="1011.2" y="516.45" width="62.78" height="27.18" fill="#74c476"/>
<rect x="1076.98" y="516.45" width="62.78" height="27.18" fill="#a1d99b"/>
<rect x="1142.76" y="516.45" width="62.78" height="27.18" fill="#a1d99b"/>
<rect x="1208.54" y="516.45" width="63" height="27.18" fill="#31a354"/>
<rect x="813.86" y="544.63" width="62.78" height="27.18" fill="#a1d99b"/>
<rect x="879.64" y="544.63" width="62.78" height="27.18" fill="#a1d99b"/>
<rect x="945.42" y="544.63" width="62.78" height="27.18" fill="#74c476"/>
<rect x="1011.2" y="544.63" width="62.78" height="27.18" fill="#74c476"/>
<rect x="1076.98" y="544.63" width="62.78" height="27.18" fill="#a1d99b"/>
<rect x="1142.76" y="544.63" width="62.78" height="27.18" fill="#a1d99b"/>
<rect x="1208.54" y="544.63" width="63" height="27.18" fill="#74c476"/>
<rect x="813.86" y="572.81" width="62.78" height="27.18" fill="#a1d99b"/>
<rect x="879.64" y="572.81" width="62.78" height="27.18" fill="#a1d99b"/>
<rect x="945.42" y="572.81" width="62.78" height="27.18" fill="#74c476"/>
<rect x="1011.2" y="572.81" width="62.78" height="27.18" fill="#74c476"/>
<rect x="1076.98" y="572.81" width="62.78" height="27.18" fill="#a1d99b"/>
<rect x="1142.76" y="572.81" width="62.78" height="27.18" fill="#a1d99b"/>
<rect x="1208.54" y="572.81" width="63" height="27.18" fill="#31a354"/>
<rect x="813.86" y="600.99" width="62.78" height="27.02" fill="#ccffbb"/>
<rect x="879.64" y="600.99" width="62.78" height="27.02" fill="#a1d99b"/>
<rect x="945.42" y="600.99" width="62.78" height="27.02" fill="#a1d99b"/>
<rect x="1011.2" y="600.99" width="62.78" height="27.02" fill="#a1d99b"/>
<rect x="1076.98" y="600.99" width="62.78" height="27.02" fill="#a1d99b"/>
<rect x="1142.76" y="600.99" width="62.78" height="27.02" fill="#a1d99b"/>
<rect x="1208.54" y="600.99" width="63" height="27.02" fill="#31a354"/>
<rect x="813.86" y="237.7" width="457.68" height="1.2" fill="#c8c8c8" fill-opacity="0.6"/>
<rect x="813.86" y="272.89" width="457.68" height="2.21" fill="#c8c8c8" fill-opacity="0.62"/>
<rect x="813.86" y="309.18" width="457.68" height="2.21" fill="#c8c8c8" fill-opacity="0.62"/>
<rect x="813.86" y="345.47" width="457.68" height="2.21" fill="#c8c8c8" fill-opacity="0.62"/>
<rect x="813.86" y="373.65" width="457.68" height="2.21" fill="#c8c8c8" fill-opacity="0.62"/>
<rect x="813.86" y="401.83" width="457.68" height="2.21" fill="#c8c8c8" fill-opacity="0.62"/>
<rect x="813.86" y="430.01" width="457.68" height="2.21" fill="#c8c8c8" fill-opacity="0.62"/>
<rect x="813.86" y="458.19" width="457.68" height="2.21" fill="#c8c8c8" fill-opacity="0.62"/>
<rect x="813.86" y="486.37" width="457.68" height="2.21" fill="#c8c8c8" fill-opacity="0.62"/>
<rect x="813.86" y="514.55" width="457.68" height="2.21" fill="#c8c8c8" fill-opacity="0.62"/>
<rect x="813.86" y="542.73" width="457.68" height="2.21" fill="#c8c8c8" fill-opacity="0.62"/>
<rect x="813.86" y="570.91" width="457.68" height="2.21" fill="#c8c8c8" fill-opacity="0.62"/>
<rect x="813.86" y="599.08" width="457.68" height="2.21" fill="#c8c8c8" fill-opacity="0.62"/>
<rect x="813.86" y="627.11" width="457.68" height="2.21" fill="#c8c8c8" fill-opacity="0.62"/>
<rect x="810.86" y="186.3" width="3" height="441.72" fill="#ababab"/>
<rect x="810.16" y="237.5" width="0.8" height="390.52" fill="#d8d8d8" fill-opacity="0.7"/>
<rect x="876.64" y="186.3" width="3" height="441.72" fill="#ababab"/>
<rect x="875.94" y="237.5" width="0.8" height="390.52" fill="#d8d8d8" fill-opacity="0.7"/>
<rect x="942.42" y="186.3" width="3" height="441.72" fill="#ababab"/>
<rect x="941.72" y="237.5" width="0.8" height="390.52" fill="#d8d8d8" fill-opacity="0.7"/>
<rect x="1008.2" y="186.3" width="3" height="441.72" fill="#ababab"/>
<rect x="1007.5" y="237.5" width="0.8" height="390.52" fill="#d8d8d8" fill-opacity="0.7"/>
<rect x="1073.98" y="186.3" width="3" height="441.72" fill="#ababab"/>
<rect x="1073.28" y="237.5" width="0.8" height="390.52" fill="#d8d8d8" fill-opacity="0.7"/>
<rect x="1139.76" y="186.3" width="3" height="441.72" fill="#ababab"/>
<rect x="1139.06" y="237.5" width="0.8" height="390.52" fill="#d8d8d8" fill-opacity="0.7"/>
<rect x="1205.54" y="186.3" width="3" height="441.72" fill="#ababab"/>
<rect x="1204.84" y="237.5" width="0.8" height="390.52" fill="#d8d8d8" fill-opacity="0.7"/>
<rect x="1271.24" y="237.5" width="1" height="390.52" fill="#d0d0d0" fill-opacity="0.6"/>
<text x="823.71" y="205.78" font-size="19.4" textLength="42.77" lengthAdjust="spacingAndGlyphs" fill="#1c1c1c" stroke="#1c1c1c" stroke-width="0.45">10/13</text>
<text x="828.56" y="232.08" font-size="20.13" font-weight="bold" textLength="33.46" lengthAdjust="spacingAndGlyphs" stroke="#000" stroke-width="0.5">Mon</text>
<text x="889.48" y="205.78" font-size="19.4" textLength="43.21" lengthAdjust="spacingAndGlyphs" fill="#1c1c1c" stroke="#1c1c1c" stroke-width="0.45">10/14</text>
<text x="897.2" y="232.08" font-size="20.13" font-weight="bold" textLength="27.97" lengthAdjust="spacingAndGlyphs" stroke="#000" stroke-width="0.5">Tue</text>
<text x="955.26" y="205.78" font-size="19.4" textLength="43.21" lengthAdjust="spacingAndGlyphs" fill="#1c1c1c" stroke="#1c1c1c" stroke-width="0.45">10/15</text>
<text x="960.9" y="232.08" font-size="20.13" font-weight="bold" textLength="32.26" lengthAdjust="spacingAndGlyphs" stroke="#000" stroke-width="0.5">Wed</text>
<text x="1021.04" y="205.78" font-size="19.4" textLength="43.1" lengthAdjust="spacingAndGlyphs" fill="#1c1c1c" stroke="#1c1c1c" stroke-width="0.45">10/16</text>
<text x="1028.34" y="232.08" font-size="20.13" font-weight="bold" textLength="28.93" lengthAdjust="spacingAndGlyphs" stroke="#000" stroke-width="0.5">Thu</text>
<text x="1086.81" y="205.78" font-size="19.4" textLength="43.31" lengthAdjust="spacingAndGlyphs" fill="#1c1c1c" stroke="#1c1c1c" stroke-width="0.45">10/17</text>
<text x="1098.53" y="232.08" font-size="20.13" font-weight="bold" textLength="19.86" lengthAdjust="spacingAndGlyphs" stroke="#000" stroke-width="0.5">Fri</text>
<text x="1152.61" y="205.78" font-size="19.4" textLength="42.93" lengthAdjust="spacingAndGlyphs" fill="#1c1c1c" stroke="#1c1c1c" stroke-width="0.45">10/18</text>
<text x="1161.86" y="232.08" font-size="20.13" font-weight="bold" textLength="24.6" lengthAdjust="spacingAndGlyphs" stroke="#000" stroke-width="0.5">Sat</text>
<text x="1218.5" y="205.78" font-size="19.4" textLength="42.85" lengthAdjust="spacingAndGlyphs" fill="#1c1c1c" stroke="#1c1c1c" stroke-width="0.45">10/19</text>
<text x="1225.76" y="232.08" font-size="20.13" font-weight="bold" textLength="28.81" lengthAdjust="spacingAndGlyphs" stroke="#000" stroke-width="0.5">Sun</text>
<text x="644.8" y="266.61" font-size="29.67" font-weight="bold" textLength="57.31" lengthAdjust="spacingAndGlyphs" stroke="#000" stroke-width="0.5">Tulsa</text>
<text x="836.06" y="263.7" font-size="20.65" textLength="18.79" lengthAdjust="spacingAndGlyphs" fill="#222" stroke="#222" stroke-width="0.5">67</text>
<text x="901.84" y="263.7" font-size="20.65" textLength="18.69" lengthAdjust="spacingAndGlyphs" fill="#222" stroke="#222" stroke-width="0.5">65</text>
<text x="967.65" y="263.7" font-size="20.65" textLength="18.2" lengthAdjust="spacingAndGlyphs" fill="#222" stroke="#222" stroke-width="0.5">63</text>
<text x="1033.43" y="263.7" font-size="20.65" textLength="18.2" lengthAdjust="spacingAndGlyphs" fill="#222" stroke="#222" stroke-width="0.5">63</text>
<text x="1099.18" y="263.7" font-size="20.65" textLength="18.71" lengthAdjust="spacingAndGlyphs" fill="#222" stroke="#222" stroke-width="0.5">64</text>
<text x="1164.96" y="263.7" font-size="20.65" textLength="18.69" lengthAdjust="spacingAndGlyphs" fill="#222" stroke="#222" stroke-width="0.5">65</text>
<text x="1231.17" y="263.7" font-size="20.65" textLength="18.35" lengthAdjust="spacingAndGlyphs" fill="#222" stroke="#222" stroke-width="0.5">55</text>
<text x="643.5" y="302.9" font-size="29.67" font-weight="bold" textLength="115.99" lengthAdjust="spacingAndGlyphs" stroke="#000" stroke-width="0.5">Fort Smith</text>
<text x="836.06" y="299.99" font-size="20.65" textLength="18.69" lengthAdjust="spacingAndGlyphs" fill="#222" stroke="#222" stroke-width="0.5">65</text>
<text x="901.84" y="299.99" font-size="20.65" textLength="18.71" lengthAdjust="spacingAndGlyphs" fill="#222" stroke="#222" stroke-width="0.5">64</text>
<text x="967.61" y="299.99" font-size="20.65" textLength="18.89" lengthAdjust="spacingAndGlyphs" fill="#222" stroke="#222" stroke-width="0.5">62</text>
<text x="1033.39" y="299.99" font-size="20.65" textLength="18.89" lengthAdjust="spacingAndGlyphs" fill="#222" stroke="#222" stroke-width="0.5">62</text>
<text x="1099.18" y="299.99" font-size="20.65" textLength="18.71" lengthAdjust="spacingAndGlyphs" fill="#222" stroke="#222" stroke-width="0.5">64</text>
<text x="1164.96" y="299.99" font-size="20.65" textLength="18.79" lengthAdjust="spacingAndGlyphs" fill="#222" stroke="#222" stroke-width="0.5">67</text>
<text x="1231.19" y="299.99" font-size="20.65" textLength="17.94" lengthAdjust="spacingAndGlyphs" fill="#222" stroke="#222" stroke-width="0.5">59</text>
<text x="643.51" y="339.2" font-size="29.67" font-weight="bold" textLength="125.22" lengthAdjust="spacingAndGlyphs" stroke="#000" stroke-width="0.5">Fayetteville</text>
<text x="836.06" y="336.28" font-size="20.65" textLength="18.71" lengthAdjust="spacingAndGlyphs" fill="#222" stroke="#222" stroke-width="0.5">64</text>
<text x="901.84" y="336.28" font-size="20.65" textLength="18.71" lengthAdjust="spacingAndGlyphs" fill="#222" stroke="#222" stroke-width="0.5">64</text>
<text x="967.96" y="336.28" font-size="20.65" textLength="17.94" lengthAdjust="spacingAndGlyphs" fill="#222" stroke="#222" stroke-width="0.5">59</text>
<text x="1033.74" y="336.28" font-size="20.65" textLength="17.94" lengthAdjust="spacingAndGlyphs" fill="#222" stroke="#222" stroke-width="0.5">59</text>
<text x="1099.17" y="336.28" font-size="20.65" textLength="18.89" lengthAdjust="spacingAndGlyphs" fill="#222" stroke="#222" stroke-width="0.5">62</text>
<text x="1164.95" y="336.28" font-size="20.65" textLength="18.89" lengthAdjust="spacingAndGlyphs" fill="#222" stroke="#222" stroke-width="0.5">62</text>
<text x="1231.28" y="336.28" font-size="20.65" textLength="15.48" lengthAdjust="spacingAndGlyphs" fill="#fff" stroke="#fff" stroke-width="0.5">51</text>
<text x="643.76" y="368.46" font-size="20.33" font-weight="bold" textLength="88.73" lengthAdjust="spacingAndGlyphs" stroke="#000" stroke-width="0.35">Bartlesville</text>
<text x="836.06" y="368.76" font-size="20.65" textLength="18.71" lengthAdjust="spacingAndGlyphs" fill="#222" stroke="#222" stroke-width="0.5">64</text>
<text x="901.98" y="368.76" font-size="20.65" textLength="15.79" lengthAdjust="spacingAndGlyphs" fill="#222" stroke="#222" stroke-width="0.5">61</text>
<text x="967.96" y="368.76" font-size="20.65" textLength="17.94" lengthAdjust="spacingAndGlyphs" fill="#222" stroke="#222" stroke-width="0.5">59</text>
<text x="1033.74" y="368.76" font-size="20.65" textLength="17.94" lengthAdjust="spacingAndGlyphs" fill="#222" stroke="#222" stroke-width="0.5">59</text>
<text x="1099.2" y="368.76" font-size="20.65" textLength="18.3" lengthAdjust="spacingAndGlyphs" fill="#222" stroke="#222" stroke-width="0.5">60</text>
<text x="1164.98" y="368.76" font-size="20.65" textLength="18.3" lengthAdjust="spacingAndGlyphs" fill="#222" stroke="#222" stroke-width="0.5">60</text>
<text x="1231.19" y="368.76" font-size="20.65" textLength="17.98" lengthAdjust="spacingAndGlyphs" fill="#fff" stroke="#fff" stroke-width="0.5">50</text>
<text x="643.8" y="396.64" font-size="20.33" font-weight="bold" textLength="118.09" lengthAdjust="spacingAndGlyphs" stroke="#000" stroke-width="0.35">Eureka Springs</text>
<text x="836.06" y="396.94" font-size="20.65" textLength="18.71" lengthAdjust="spacingAndGlyphs" fill="#222" stroke="#222" stroke-width="0.5">64</text>
<text x="901.84" y="396.94" font-size="20.65" textLength="18.71" lengthAdjust="spacingAndGlyphs" fill="#222" stroke="#222" stroke-width="0.5">64</text>
<text x="967.95" y="396.94" font-size="20.65" textLength="18.04" lengthAdjust="spacingAndGlyphs" fill="#222" stroke="#222" stroke-width="0.5">58</text>
<text x="1033.73" y="396.94" font-size="20.65" textLength="18.04" lengthAdjust="spacingAndGlyphs" fill="#222" stroke="#222" stroke-width="0.5">58</text>
<text x="1099.32" y="396.94" font-size="20.65" textLength="15.79" lengthAdjust="spacingAndGlyphs" fill="#222" stroke="#222" stroke-width="0.5">61</text>
<text x="1164.95" y="396.94" font-size="20.65" textLength="18.89" lengthAdjust="spacingAndGlyphs" fill="#222" stroke="#222" stroke-width="0.5">62</text>
<text x="1231.19" y="396.94" font-size="20.65" textLength="17.98" lengthAdjust="spacingAndGlyphs" fill="#fff" stroke="#fff" stroke-width="0.5">50</text>
<text x="643.76" y="424.82" font-size="20.33" font-weight="bold" textLength="42.41" lengthAdjust="spacingAndGlyphs" stroke="#000" stroke-width="0.35">Hugo</text>
<text x="836.05" y="425.12" font-size="20.65" textLength="18.89" lengthAdjust="spacingAndGlyphs" fill="#222" stroke="#222" stroke-width="0.5">62</text>
<text x="901.98" y="425.12" font-size="20.65" textLength="15.79" lengthAdjust="spacingAndGlyphs" fill="#222" stroke="#222" stroke-width="0.5">61</text>
<text x="967.96" y="425.12" font-size="20.65" textLength="17.94" lengthAdjust="spacingAndGlyphs" fill="#222" stroke="#222" stroke-width="0.5">59</text>
<text x="1033.74" y="425.12" font-size="20.65" textLength="17.94" lengthAdjust="spacingAndGlyphs" fill="#222" stroke="#222" stroke-width="0.5">59</text>
<text x="1099.17" y="425.12" font-size="20.65" textLength="18.89" lengthAdjust="spacingAndGlyphs" fill="#222" stroke="#222" stroke-width="0.5">62</text>
<text x="1164.97" y="425.12" font-size="20.65" textLength="18.56" lengthAdjust="spacingAndGlyphs" fill="#222" stroke="#222" stroke-width="0.5">66</text>
<text x="1231.18" y="425.12" font-size="20.65" textLength="18.04" lengthAdjust="spacingAndGlyphs" fill="#222" stroke="#222" stroke-width="0.5">58</text>
<text x="643.75" y="453" font-size="20.33" font-weight="bold" textLength="80.43" lengthAdjust="spacingAndGlyphs" stroke="#000" stroke-width="0.35">McAlester</text>
<text x="836.06" y="453.3" font-size="20.65" textLength="18.71" lengthAdjust="spacingAndGlyphs" fill="#222" stroke="#222" stroke-width="0.5">64</text>
<text x="901.98" y="453.3" font-size="20.65" textLength="15.79" lengthAdjust="spacingAndGlyphs" fill="#222" stroke="#222" stroke-width="0.5">61</text>
<text x="967.76" y="453.3" font-size="20.65" textLength="15.79" lengthAdjust="spacingAndGlyphs" fill="#222" stroke="#222" stroke-width="0.5">61</text>
<text x="1033.54" y="453.3" font-size="20.65" textLength="15.79" lengthAdjust="spacingAndGlyphs" fill="#222" stroke="#222" stroke-width="0.5">61</text>
<text x="1099.18" y="453.3" font-size="20.65" textLength="18.69" lengthAdjust="spacingAndGlyphs" fill="#222" stroke="#222" stroke-width="0.5">65</text>
<text x="1164.96" y="453.3" font-size="20.65" textLength="18.69" lengthAdjust="spacingAndGlyphs" fill="#222" stroke="#222" stroke-width="0.5">65</text>
<text x="1231.17" y="453.3" font-size="20.65" textLength="18.35" lengthAdjust="spacingAndGlyphs" fill="#222" stroke="#222" stroke-width="0.5">55</text>
<text x="643.7" y="481.18" font-size="20.33" font-weight="bold" textLength="49.77" lengthAdjust="spacingAndGlyphs" stroke="#000" stroke-width="0.35">Miami</text>
<text x="836.06" y="481.48" font-size="20.65" textLength="18.69" lengthAdjust="spacingAndGlyphs" fill="#222" stroke="#222" stroke-width="0.5">65</text>
<text x="901.83" y="481.48" font-size="20.65" textLength="18.89" lengthAdjust="spacingAndGlyphs" fill="#222" stroke="#222" stroke-width="0.5">62</text>
<text x="967.64" y="481.48" font-size="20.65" textLength="18.3" lengthAdjust="spacingAndGlyphs" fill="#222" stroke="#222" stroke-width="0.5">60</text>
<text x="1033.42" y="481.48" font-size="20.65" textLength="18.3" lengthAdjust="spacingAndGlyphs" fill="#222" stroke="#222" stroke-width="0.5">60</text>
<text x="1099.32" y="481.48" font-size="20.65" textLength="15.79" lengthAdjust="spacingAndGlyphs" fill="#222" stroke="#222" stroke-width="0.5">61</text>
<text x="1164.98" y="481.48" font-size="20.65" textLength="18.3" lengthAdjust="spacingAndGlyphs" fill="#222" stroke="#222" stroke-width="0.5">60</text>
<text x="1231.19" y="481.48" font-size="20.65" textLength="17.98" lengthAdjust="spacingAndGlyphs" fill="#fff" stroke="#fff" stroke-width="0.5">50</text>
<text x="643.75" y="509.36" font-size="20.33" font-weight="bold" textLength="82.35" lengthAdjust="spacingAndGlyphs" stroke="#000" stroke-width="0.35">Muskogee</text>
<text x="836.06" y="509.66" font-size="20.65" textLength="18.79" lengthAdjust="spacingAndGlyphs" fill="#222" stroke="#222" stroke-width="0.5">67</text>
<text x="901.84" y="509.66" font-size="20.65" textLength="18.71" lengthAdjust="spacingAndGlyphs" fill="#222" stroke="#222" stroke-width="0.5">64</text>
<text x="967.61" y="509.66" font-size="20.65" textLength="18.89" lengthAdjust="spacingAndGlyphs" fill="#222" stroke="#222" stroke-width="0.5">62</text>
<text x="1033.39" y="509.66" font-size="20.65" textLength="18.89" lengthAdjust="spacingAndGlyphs" fill="#222" stroke="#222" stroke-width="0.5">62</text>
<text x="1099.18" y="509.66" font-size="20.65" textLength="18.71" lengthAdjust="spacingAndGlyphs" fill="#222" stroke="#222" stroke-width="0.5">64</text>
<text x="1164.96" y="509.66" font-size="20.65" textLength="18.71" lengthAdjust="spacingAndGlyphs" fill="#222" stroke="#222" stroke-width="0.5">64</text>
<text x="1231.17" y="509.66" font-size="20.65" textLength="18.38" lengthAdjust="spacingAndGlyphs" fill="#fff" stroke="#fff" stroke-width="0.5">54</text>
<text x="644.2" y="537.54" font-size="20.33" font-weight="bold" textLength="64.74" lengthAdjust="spacingAndGlyphs" stroke="#000" stroke-width="0.35">Okemah</text>
<text x="836.06" y="537.84" font-size="20.65" textLength="18.71" lengthAdjust="spacingAndGlyphs" fill="#222" stroke="#222" stroke-width="0.5">64</text>
<text x="901.98" y="537.84" font-size="20.65" textLength="15.79" lengthAdjust="spacingAndGlyphs" fill="#222" stroke="#222" stroke-width="0.5">61</text>
<text x="967.96" y="537.84" font-size="20.65" textLength="17.94" lengthAdjust="spacingAndGlyphs" fill="#222" stroke="#222" stroke-width="0.5">59</text>
<text x="1033.74" y="537.84" font-size="20.65" textLength="17.94" lengthAdjust="spacingAndGlyphs" fill="#222" stroke="#222" stroke-width="0.5">59</text>
<text x="1099.21" y="537.84" font-size="20.65" textLength="18.2" lengthAdjust="spacingAndGlyphs" fill="#222" stroke="#222" stroke-width="0.5">63</text>
<text x="1164.99" y="537.84" font-size="20.65" textLength="18.2" lengthAdjust="spacingAndGlyphs" fill="#222" stroke="#222" stroke-width="0.5">63</text>
<text x="1231.16" y="537.84" font-size="20.65" textLength="18.56" lengthAdjust="spacingAndGlyphs" fill="#fff" stroke="#fff" stroke-width="0.5">52</text>
<text x="644.21" y="565.72" font-size="20.33" font-weight="bold" textLength="45.3" lengthAdjust="spacingAndGlyphs" stroke="#000" stroke-width="0.35">Ozark</text>
<text x="836.05" y="566.02" font-size="20.65" textLength="18.89" lengthAdjust="spacingAndGlyphs" fill="#222" stroke="#222" stroke-width="0.5">62</text>
<text x="901.98" y="566.02" font-size="20.65" textLength="15.79" lengthAdjust="spacingAndGlyphs" fill="#222" stroke="#222" stroke-width="0.5">61</text>
<text x="967.96" y="566.02" font-size="20.65" textLength="17.94" lengthAdjust="spacingAndGlyphs" fill="#222" stroke="#222" stroke-width="0.5">59</text>
<text x="1033.74" y="566.02" font-size="20.65" textLength="17.94" lengthAdjust="spacingAndGlyphs" fill="#222" stroke="#222" stroke-width="0.5">59</text>
<text x="1099.32" y="566.02" font-size="20.65" textLength="15.79" lengthAdjust="spacingAndGlyphs" fill="#222" stroke="#222" stroke-width="0.5">61</text>
<text x="1164.96" y="566.02" font-size="20.65" textLength="18.71" lengthAdjust="spacingAndGlyphs" fill="#222" stroke="#222" stroke-width="0.5">64</text>
<text x="1231.18" y="566.02" font-size="20.65" textLength="18.23" lengthAdjust="spacingAndGlyphs" fill="#222" stroke="#222" stroke-width="0.5">56</text>
<text x="643.8" y="593.89" font-size="20.33" font-weight="bold" textLength="55.38" lengthAdjust="spacingAndGlyphs" stroke="#000" stroke-width="0.35">Rogers</text>
<text x="836.06" y="594.2" font-size="20.65" textLength="18.71" lengthAdjust="spacingAndGlyphs" fill="#222" stroke="#222" stroke-width="0.5">64</text>
<text x="901.84" y="594.2" font-size="20.65" textLength="18.71" lengthAdjust="spacingAndGlyphs" fill="#222" stroke="#222" stroke-width="0.5">64</text>
<text x="967.96" y="594.2" font-size="20.65" textLength="17.94" lengthAdjust="spacingAndGlyphs" fill="#222" stroke="#222" stroke-width="0.5">59</text>
<text x="1033.74" y="594.2" font-size="20.65" textLength="17.94" lengthAdjust="spacingAndGlyphs" fill="#222" stroke="#222" stroke-width="0.5">59</text>
<text x="1099.17" y="594.2" font-size="20.65" textLength="18.89" lengthAdjust="spacingAndGlyphs" fill="#222" stroke="#222" stroke-width="0.5">62</text>
<text x="1164.95" y="594.2" font-size="20.65" textLength="18.89" lengthAdjust="spacingAndGlyphs" fill="#222" stroke="#222" stroke-width="0.5">62</text>
<text x="1231.19" y="594.2" font-size="20.65" textLength="17.98" lengthAdjust="spacingAndGlyphs" fill="#fff" stroke="#fff" stroke-width="0.5">50</text>
<text x="644.69" y="622.07" font-size="20.33" font-weight="bold" textLength="81.56" lengthAdjust="spacingAndGlyphs" stroke="#000" stroke-width="0.35">Tahlequah</text>
<text x="836.07" y="622.38" font-size="20.65" textLength="18.56" lengthAdjust="spacingAndGlyphs" fill="#222" stroke="#222" stroke-width="0.5">66</text>
<text x="901.87" y="622.38" font-size="20.65" textLength="18.2" lengthAdjust="spacingAndGlyphs" fill="#222" stroke="#222" stroke-width="0.5">63</text>
<text x="967.76" y="622.38" font-size="20.65" textLength="15.79" lengthAdjust="spacingAndGlyphs" fill="#222" stroke="#222" stroke-width="0.5">61</text>
<text x="1033.54" y="622.38" font-size="20.65" textLength="15.79" lengthAdjust="spacingAndGlyphs" fill="#222" stroke="#222" stroke-width="0.5">61</text>
<text x="1099.21" y="622.38" font-size="20.65" textLength="18.2" lengthAdjust="spacingAndGlyphs" fill="#222" stroke="#222" stroke-width="0.5">63</text>
<text x="1164.95" y="622.38" font-size="20.65" textLength="18.89" lengthAdjust="spacingAndGlyphs" fill="#222" stroke="#222" stroke-width="0.5">62</text>
<text x="1231.16" y="622.38" font-size="20.65" textLength="18.56" lengthAdjust="spacingAndGlyphs" fill="#fff" stroke="#fff" stroke-width="0.5">52</text>
<rect x="767.74" y="634.44" width="54.71" height="12.95" fill="#15595c"/>
<rect x="822.25" y="634.44" width="54.71" height="12.95" fill="#066d2d"/>
<rect x="876.77" y="634.44" width="54.71" height="12.95" fill="#31a354"/>
<rect x="931.28" y="634.44" width="54.71" height="12.95" fill="#74c476"/>
<rect x="985.8" y="634.44" width="54.71" height="12.95" fill="#a1d99b"/>
<rect x="1040.31" y="634.44" width="54.71" height="12.95" fill="#ccffbb"/>
<rect x="1094.83" y="634.44" width="54.71" height="12.95" fill="#ffffb2"/>
<rect x="767.74" y="634.44" width="381.6" height="12.95" fill="none" stroke="#555" stroke-width="1"/>
<rect x="821.65" y="634.44" width="1.2" height="18.27" fill="#222"/>
<text x="822.25" y="663.76" font-size="9.74" text-anchor="middle" fill="#222" stroke="#222" stroke-width="0.25">45</text>
<rect x="876.17" y="634.44" width="1.2" height="18.27" fill="#222"/>
<text x="876.77" y="663.76" font-size="9.74" text-anchor="middle" fill="#222" stroke="#222" stroke-width="0.25">50</text>
<rect x="930.68" y="634.44" width="1.2" height="18.27" fill="#222"/>
<text x="931.28" y="663.76" font-size="9.74" text-anchor="middle" fill="#222" stroke="#222" stroke-width="0.25">55</text>
<rect x="985.2" y="634.44" width="1.2" height="18.27" fill="#222"/>
<text x="985.8" y="663.76" font-size="9.74" text-anchor="middle" fill="#222" stroke="#222" stroke-width="0.25">60</text>
<rect x="1039.71" y="634.44" width="1.2" height="18.27" fill="#222"/>
<text x="1040.31" y="663.76" font-size="9.74" text-anchor="middle" fill="#222" stroke="#222" stroke-width="0.25">65</text>
<rect x="1094.23" y="634.44" width="1.2" height="18.27" fill="#222"/>
<text x="1094.83" y="663.76" font-size="9.74" text-anchor="middle" fill="#222" stroke="#222" stroke-width="0.25">70</text>
<rect x="1148.74" y="634.44" width="1.2" height="18.27" fill="#222"/>
<text x="1149.34" y="663.76" font-size="9.74" text-anchor="middle" fill="#222" stroke="#222" stroke-width="0.25">75</text>
<text x="857.63" y="678.01" font-size="14.52" font-weight="bold" textLength="202.1" lengthAdjust="spacingAndGlyphs" fill="#111">Minimum Temperature Forecast (°F)</text>
<text x="644" y="696.38" font-size="15.56" textLength="625.32" lengthAdjust="spacingAndGlyphs" fill="#333">Created: 1 am CDT Mon 10/13/2025  |  Values are minimums over the period beginning at the time shown.</text>
</g>
<rect x="1278.5" y="150.5" width="637" height="572" fill="#fff" stroke="#000" stroke-width="1"/>
<g filter="url(#soft)">
<text x="1376" y="179.59" font-size="29.09" font-weight="bold" textLength="442.15" lengthAdjust="spacingAndGlyphs">Probability of Precipitation Forecast (%)</text>
<rect x="1279" y="237.1" width="169.63" height="36.35" fill="#d6d6d6"/>
<rect x="1279" y="309.79" width="169.63" height="36.35" fill="#d6d6d6"/>
<rect x="1279" y="374.36" width="169.63" height="28.22" fill="#d6d6d6"/>
<rect x="1279" y="430.8" width="169.63" height="28.22" fill="#d6d6d6"/>
<rect x="1279" y="487.24" width="169.63" height="28.22" fill="#d6d6d6"/>
<rect x="1279" y="543.69" width="169.63" height="28.22" fill="#d6d6d6"/>
<rect x="1279" y="600.13" width="169.63" height="28.07" fill="#d6d6d6"/>
<rect x="1451.35" y="238.11" width="63.19" height="35.34" fill="#bbe9ac"/>
<rect x="1517.56" y="238.11" width="63.19" height="35.34" fill="#ffffff"/>
<rect x="1583.78" y="238.11" width="63.19" height="35.34" fill="#ffffff"/>
<rect x="1649.99" y="238.11" width="63.19" height="35.34" fill="#ffffff"/>
<rect x="1716.21" y="238.11" width="63.19" height="35.34" fill="#bbe9ac"/>
<rect x="1782.42" y="238.11" width="63.19" height="35.34" fill="#bbe9ac"/>
<rect x="1848.63" y="238.11" width="63.42" height="35.34" fill="#e0f6d6"/>
<rect x="1451.35" y="274.45" width="63.19" height="35.34" fill="#ffffff"/>
<rect x="1517.56" y="274.45" width="63.19" height="35.34" fill="#ffffff"/>
<rect x="1583.78" y="274.45" width="63.19" height="35.34" fill="#ffffff"/>
<rect x="1649.99" y="274.45" width="63.19" height="35.34" fill="#ffffff"/>
<rect x="1716.21" y="274.45" width="63.19" height="35.34" fill="#e0f6d6"/>
<rect x="1782.42" y="274.45" width="63.19" height="35.34" fill="#bbe9ac"/>
<rect x="1848.63" y="274.45" width="63.42" height="35.34" fill="#bbe9ac"/>
<rect x="1451.35" y="310.8" width="63.19" height="35.34" fill="#ffffff"/>
<rect x="1517.56" y="310.8" width="63.19" height="35.34" fill="#ffffff"/>
<rect x="1583.78" y="310.8" width="63.19" height="35.34" fill="#ffffff"/>
<rect x="1649.99" y="310.8" width="63.19" height="35.34" fill="#ffffff"/>
<rect x="1716.21" y="310.8" width="63.19" height="35.34" fill="#e0f6d6"/>
<rect x="1782.42" y="310.8" width="63.19" height="35.34" fill="#bbe9ac"/>
<rect x="1848.63" y="310.8" width="63.42" height="35.34" fill="#bbe9ac"/>
<rect x="1451.35" y="347.14" width="63.19" height="27.22" fill="#94dc7a"/>
<rect x="1517.56" y="347.14" width="63.19" height="27.22" fill="#e0f6d6"/>
<rect x="1583.78" y="347.14" width="63.19" height="27.22" fill="#ffffff"/>
<rect x="1649.99" y="347.14" width="63.19" height="27.22" fill="#ffffff"/>
<rect x="1716.21" y="347.14" width="63.19" height="27.22" fill="#bbe9ac"/>
<rect x="1782.42" y="347.14" width="63.19" height="27.22" fill="#94dc7a"/>
<rect x="1848.63" y="347.14" width="63.42" height="27.22" fill="#e0f6d6"/>
<rect x="1451.35" y="375.36" width="63.19" height="27.22" fill="#ffffff"/>
<rect x="1517.56" y="375.36" width="63.19" height="27.22" fill="#ffffff"/>
<rect x="1583.78" y="375.36" width="63.19" height="27.22" fill="#ffffff"/>
<rect x="1649.99" y="375.36" width="63.19" height="27.22" fill="#ffffff"/>
<rect x="1716.21" y="375.36" width="63.19" height="27.22" fill="#e0f6d6"/>
<rect x="1782.42" y="375.36" width="63.19" height="27.22" fill="#94dc7a"/>
<rect x="1848.63" y="375.36" width="63.42" height="27.22" fill="#bbe9ac"/>
<rect x="1451.35" y="403.58" width="63.19" height="27.22" fill="#ffffff"/>
<rect x="1517.56" y="403.58" width="63.19" height="27.22" fill="#ffffff"/>
<rect x="1583.78" y="403.58" width="63.19" height="27.22" fill="#ffffff"/>
<rect x="1649.99" y="403.58" width="63.19" height="27.22" fill="#ffffff"/>
<rect x="1716.21" y="403.58" width="63.19" height="27.22" fill="#ffffff"/>
<rect x="1782.42" y="403.58" width="63.19" height="27.22" fill="#bbe9ac"/>
<rect x="1848.63" y="403.58" width="63.42" height="27.22" fill="#bbe9ac"/>
<rect x="1451.35" y="431.81" width="63.19" height="27.22" fill="#ffffff"/>
<rect x="1517.56" y="431.81" width="63.19" height="27.22" fill="#ffffff"/>
<rect x="1583.78" y="431.81" width="63.19" height="27.22" fill="#ffffff"/>
<rect x="1649.99" y="431.81" width="63.19" height="27.22" fill="#ffffff"/>
<rect x="1716.21" y="431.81" width="63.19" height="27.22" fill="#e0f6d6"/>
<rect x="1782.42" y="431.81" width="63.19" height="27.22" fill="#d3f0c7"/>
<rect x="1848.63" y="431.81" width="63.42" height="27.22" fill="#d3f0c7"/>
<rect x="1451.35" y="460.03" width="63.19" height="27.22" fill="#bbe9ac"/>
<rect x="1517.56" y="460.03" width="63.19" height="27.22" fill="#ffffff"/>
<rect x="1583.78" y="460.03" width="63.19" height="27.22" fill="#ffffff"/>
<rect x="1649.99" y="460.03" width="63.19" height="27.22" fill="#ffffff"/>
<rect x="1716.21" y="460.03" width="63.19" height="27.22" fill="#bbe9ac"/>
<rect x="1782.42" y="460.03" width="63.19" height="27.22" fill="#94dc7a"/>
<rect x="1848.63" y="460.03" width="63.42" height="27.22" fill="#d3f0c7"/>
<rect x="1451.35" y="488.25" width="63.19" height="27.22" fill="#e0f6d6"/>
<rect x="1517.56" y="488.25" width="63.19" height="27.22" fill="#ffffff"/>
<rect x="1583.78" y="488.25" width="63.19" height="27.22" fill="#ffffff"/>
<rect x="1649.99" y="488.25" width="63.19" height="27.22" fill="#ffffff"/>
<rect x="1716.21" y="488.25" width="63.19" height="27.22" fill="#d3f0c7"/>
<rect x="1782.42" y="488.25" width="63.19" height="27.22" fill="#bbe9ac"/>
<rect x="1848.63" y="488.25" width="63.42" height="27.22" fill="#d3f0c7"/>
<rect x="1451.35" y="516.47" width="63.19" height="27.22" fill="#e0f6d6"/>
<rect x="1517.56" y="516.47" width="63.19" height="27.22" fill="#ffffff"/>
<rect x="1583.78" y="516.47" width="63.19" height="27.22" fill="#ffffff"/>
<rect x="1649.99" y="516.47" width="63.19" height="27.22" fill="#ffffff"/>
<rect x="1716.21" y="516.47" width="63.19" height="27.22" fill="#d3f0c7"/>
<rect x="1782.42" y="516.47" width="63.19" height="27.22" fill="#d3f0c7"/>
<rect x="1848.63" y="516.47" width="63.42" height="27.22" fill="#d3f0c7"/>
<rect x="1451.35" y="544.69" width="63.19" height="27.22" fill="#ffffff"/>
<rect x="1517.56" y="544.69" width="63.19" height="27.22" fill="#ffffff"/>
<rect x="1583.78" y="544.69" width="63.19" height="27.22" fill="#ffffff"/>
<rect x="1649.99" y="544.69" width="63.19" height="27.22" fill="#ffffff"/>
<rect x="1716.21" y="544.69" width="63.19" height="27.22" fill="#ffffff"/>
<rect x="1782.42" y="544.69" width="63.19" height="27.22" fill="#94dc7a"/>
<rect x="1848.63" y="544.69" width="63.42" height="27.22" fill="#94dc7a"/>
<rect x="1451.35" y="572.91" width="63.19" height="27.22" fill="#ffffff"/>
<rect x="1517.56" y="572.91" width="63.19" height="27.22" fill="#ffffff"/>
<rect x="1583.78" y="572.91" width="63.19" height="27.22" fill="#ffffff"/>
<rect x="1649.99" y="572.91" width="63.19" height="27.22" fill="#ffffff"/>
<rect x="1716.21" y="572.91" width="63.19" height="27.22" fill="#e0f6d6"/>
<rect x="1782.42" y="572.91" width="63.19" height="27.22" fill="#bbe9ac"/>
<rect x="1848.63" y="572.91" width="63.42" height="27.22" fill="#bbe9ac"/>
<rect x="1451.35" y="601.14" width="63.19" height="27.07" fill="#e0f6d6"/>
<rect x="1517.56" y="601.14" width="63.19" height="27.07" fill="#ffffff"/>
<rect x="1583.78" y="601.14" width="63.19" height="27.07" fill="#ffffff"/>
<rect x="1649.99" y="601.14" width="63.19" height="27.07" fill="#ffffff"/>
<rect x="1716.21" y="601.14" width="63.19" height="27.07" fill="#d3f0c7"/>
<rect x="1782.42" y="601.14" width="63.19" height="27.07" fill="#bbe9ac"/>
<rect x="1848.63" y="601.14" width="63.42" height="27.07" fill="#d3f0c7"/>
<rect x="1451.35" y="237.3" width="460.7" height="1.21" fill="#c8c8c8" fill-opacity="0.6"/>
<rect x="1451.35" y="272.54" width="460.7" height="2.21" fill="#c8c8c8" fill-opacity="0.62"/>
<rect x="1451.35" y="308.89" width="460.7" height="2.21" fill="#c8c8c8" fill-opacity="0.62"/>
<rect x="1451.35" y="345.23" width="460.7" height="2.21" fill="#c8c8c8" fill-opacity="0.62"/>
<rect x="1451.35" y="373.45" width="460.7" height="2.21" fill="#c8c8c8" fill-opacity="0.62"/>
<rect x="1451.35" y="401.67" width="460.7" height="2.21" fill="#c8c8c8" fill-opacity="0.62"/>
<rect x="1451.35" y="429.9" width="460.7" height="2.21" fill="#c8c8c8" fill-opacity="0.62"/>
<rect x="1451.35" y="458.12" width="460.7" height="2.21" fill="#c8c8c8" fill-opacity="0.62"/>
<rect x="1451.35" y="486.34" width="460.7" height="2.21" fill="#c8c8c8" fill-opacity="0.62"/>
<rect x="1451.35" y="514.56" width="460.7" height="2.21" fill="#c8c8c8" fill-opacity="0.62"/>
<rect x="1451.35" y="542.78" width="460.7" height="2.21" fill="#c8c8c8" fill-opacity="0.62"/>
<rect x="1451.35" y="571" width="460.7" height="2.21" fill="#c8c8c8" fill-opacity="0.62"/>
<rect x="1451.35" y="599.22" width="460.7" height="2.21" fill="#c8c8c8" fill-opacity="0.62"/>
<rect x="1451.35" y="627.3" width="460.7" height="2.21" fill="#c8c8c8" fill-opacity="0.62"/>
<rect x="1448.33" y="185.82" width="3.02" height="442.38" fill="#ababab"/>
<rect x="1447.63" y="237.1" width="0.81" height="391.1" fill="#d8d8d8" fill-opacity="0.7"/>
<rect x="1514.54" y="185.82" width="3.02" height="442.38" fill="#ababab"/>
<rect x="1513.84" y="237.1" width="0.81" height="391.1" fill="#d8d8d8" fill-opacity="0.7"/>
<rect x="1580.76" y="185.82" width="3.02" height="442.38" fill="#ababab"/>
<rect x="1580.05" y="237.1" width="0.81" height="391.1" fill="#d8d8d8" fill-opacity="0.7"/>
<rect x="1646.97" y="185.82" width="3.02" height="442.38" fill="#ababab"/>
<rect x="1646.27" y="237.1" width="0.81" height="391.1" fill="#d8d8d8" fill-opacity="0.7"/>
<rect x="1713.19" y="185.82" width="3.02" height="442.38" fill="#ababab"/>
<rect x="1712.48" y="237.1" width="0.81" height="391.1" fill="#d8d8d8" fill-opacity="0.7"/>
<rect x="1779.4" y="185.82" width="3.02" height="442.38" fill="#ababab"/>
<rect x="1778.7" y="237.1" width="0.81" height="391.1" fill="#d8d8d8" fill-opacity="0.7"/>
<rect x="1845.61" y="185.82" width="3.02" height="442.38" fill="#ababab"/>
<rect x="1844.91" y="237.1" width="0.81" height="391.1" fill="#d8d8d8" fill-opacity="0.7"/>
<rect x="1911.75" y="237.1" width="1.01" height="391.1" fill="#d0d0d0" fill-opacity="0.6"/>
<text x="1461.26" y="205.83" font-size="19.43" textLength="43.06" lengthAdjust="spacingAndGlyphs" fill="#1c1c1c" stroke="#1c1c1c" stroke-width="0.45">10/13</text>
<text x="1466.15" y="231.67" font-size="20.16" font-weight="bold" textLength="33.68" lengthAdjust="spacingAndGlyphs" stroke="#000" stroke-width="0.5">Mon</text>
<text x="1527.46" y="205.83" font-size="19.43" textLength="43.5" lengthAdjust="spacingAndGlyphs" fill="#1c1c1c" stroke="#1c1c1c" stroke-width="0.45">10/14</text>
<text x="1535.24" y="231.67" font-size="20.16" font-weight="bold" textLength="28.16" lengthAdjust="spacingAndGlyphs" stroke="#000" stroke-width="0.5">Tue</text>
<text x="1593.68" y="205.83" font-size="19.43" textLength="43.5" lengthAdjust="spacingAndGlyphs" fill="#1c1c1c" stroke="#1c1c1c" stroke-width="0.45">10/15</text>
<text x="1599.36" y="231.67" font-size="20.16" font-weight="bold" textLength="32.47" lengthAdjust="spacingAndGlyphs" stroke="#000" stroke-width="0.5">Wed</text>
<text x="1659.9" y="205.83" font-size="19.43" textLength="43.39" lengthAdjust="spacingAndGlyphs" fill="#1c1c1c" stroke="#1c1c1c" stroke-width="0.45">10/16</text>
<text x="1667.24" y="231.67" font-size="20.16" font-weight="bold" textLength="29.12" lengthAdjust="spacingAndGlyphs" stroke="#000" stroke-width="0.5">Thu</text>
<text x="1726.1" y="205.83" font-size="19.43" textLength="43.6" lengthAdjust="spacingAndGlyphs" fill="#1c1c1c" stroke="#1c1c1c" stroke-width="0.45">10/17</text>
<text x="1737.9" y="231.67" font-size="20.16" font-weight="bold" textLength="19.99" lengthAdjust="spacingAndGlyphs" stroke="#000" stroke-width="0.5">Fri</text>
<text x="1792.33" y="205.83" font-size="19.43" textLength="43.22" lengthAdjust="spacingAndGlyphs" fill="#1c1c1c" stroke="#1c1c1c" stroke-width="0.45">10/18</text>
<text x="1801.64" y="231.67" font-size="20.16" font-weight="bold" textLength="24.76" lengthAdjust="spacingAndGlyphs" stroke="#000" stroke-width="0.5">Sat</text>
<text x="1858.66" y="205.83" font-size="19.43" textLength="43.13" lengthAdjust="spacingAndGlyphs" fill="#1c1c1c" stroke="#1c1c1c" stroke-width="0.45">10/19</text>
<text x="1865.97" y="231.67" font-size="20.16" font-weight="bold" textLength="29" lengthAdjust="spacingAndGlyphs" stroke="#000" stroke-width="0.5">Sun</text>
<text x="1280.79" y="266.26" font-size="29.72" font-weight="bold" textLength="57.69" lengthAdjust="spacingAndGlyphs" stroke="#000" stroke-width="0.5">Tulsa</text>
<text x="1473.57" y="263.34" font-size="20.68" textLength="18.94" lengthAdjust="spacingAndGlyphs" fill="#222" stroke="#222" stroke-width="0.5">35</text>
<text x="1545.26" y="263.34" font-size="20.68" textLength="8.42" lengthAdjust="spacingAndGlyphs" fill="#222" stroke="#222" stroke-width="0.5">5</text>
<text x="1611.2" y="263.34" font-size="20.68" textLength="8.34" lengthAdjust="spacingAndGlyphs" fill="#222" stroke="#222" stroke-width="0.5">0</text>
<text x="1677.42" y="263.34" font-size="20.68" textLength="8.34" lengthAdjust="spacingAndGlyphs" fill="#222" stroke="#222" stroke-width="0.5">0</text>
<text x="1738.44" y="263.34" font-size="20.68" textLength="18.56" lengthAdjust="spacingAndGlyphs" fill="#222" stroke="#222" stroke-width="0.5">30</text>
<text x="1804.66" y="263.34" font-size="20.68" textLength="18.56" lengthAdjust="spacingAndGlyphs" fill="#222" stroke="#222" stroke-width="0.5">30</text>
<text x="1870.94" y="263.34" font-size="20.68" textLength="18.97" lengthAdjust="spacingAndGlyphs" fill="#222" stroke="#222" stroke-width="0.5">15</text>
<text x="1279.49" y="302.6" font-size="29.72" font-weight="bold" textLength="116.76" lengthAdjust="spacingAndGlyphs" stroke="#000" stroke-width="0.5">Fort Smith</text>
<text x="1479.05" y="299.69" font-size="20.68" textLength="8.42" lengthAdjust="spacingAndGlyphs" fill="#222" stroke="#222" stroke-width="0.5">5</text>
<text x="1545.26" y="299.69" font-size="20.68" textLength="8.42" lengthAdjust="spacingAndGlyphs" fill="#222" stroke="#222" stroke-width="0.5">5</text>
<text x="1611.2" y="299.69" font-size="20.68" textLength="8.34" lengthAdjust="spacingAndGlyphs" fill="#222" stroke="#222" stroke-width="0.5">0</text>
<text x="1677.42" y="299.69" font-size="20.68" textLength="8.34" lengthAdjust="spacingAndGlyphs" fill="#222" stroke="#222" stroke-width="0.5">0</text>
<text x="1738.43" y="299.69" font-size="20.68" textLength="18.58" lengthAdjust="spacingAndGlyphs" fill="#222" stroke="#222" stroke-width="0.5">10</text>
<text x="1804.64" y="299.69" font-size="20.68" textLength="18.94" lengthAdjust="spacingAndGlyphs" fill="#222" stroke="#222" stroke-width="0.5">35</text>
<text x="1870.97" y="299.69" font-size="20.68" textLength="18.94" lengthAdjust="spacingAndGlyphs" fill="#222" stroke="#222" stroke-width="0.5">35</text>
<text x="1279.5" y="338.95" font-size="29.72" font-weight="bold" textLength="126.05" lengthAdjust="spacingAndGlyphs" stroke="#000" stroke-width="0.5">Fayetteville</text>
<text x="1479.05" y="336.03" font-size="20.68" textLength="8.42" lengthAdjust="spacingAndGlyphs" fill="#222" stroke="#222" stroke-width="0.5">5</text>
<text x="1545.26" y="336.03" font-size="20.68" textLength="8.42" lengthAdjust="spacingAndGlyphs" fill="#222" stroke="#222" stroke-width="0.5">5</text>
<text x="1611.2" y="336.03" font-size="20.68" textLength="8.34" lengthAdjust="spacingAndGlyphs" fill="#222" stroke="#222" stroke-width="0.5">0</text>
<text x="1677.42" y="336.03" font-size="20.68" textLength="8.34" lengthAdjust="spacingAndGlyphs" fill="#222" stroke="#222" stroke-width="0.5">0</text>
<text x="1738.2" y="336.03" font-size="20.68" textLength="18.81" lengthAdjust="spacingAndGlyphs" fill="#222" stroke="#222" stroke-width="0.5">20</text>
<text x="1804.64" y="336.03" font-size="20.68" textLength="18.94" lengthAdjust="spacingAndGlyphs" fill="#222" stroke="#222" stroke-width="0.5">35</text>
<text x="1870.97" y="336.03" font-size="20.68" textLength="18.94" lengthAdjust="spacingAndGlyphs" fill="#222" stroke="#222" stroke-width="0.5">35</text>
<text x="1279.76" y="368.25" font-size="20.36" font-weight="bold" textLength="89.32" lengthAdjust="spacingAndGlyphs" stroke="#000" stroke-width="0.35">Bartlesville</text>
<text x="1473.46" y="368.56" font-size="20.68" textLength="19.06" lengthAdjust="spacingAndGlyphs" fill="#222" stroke="#222" stroke-width="0.5">45</text>
<text x="1539.78" y="368.56" font-size="20.68" textLength="18.58" lengthAdjust="spacingAndGlyphs" fill="#222" stroke="#222" stroke-width="0.5">10</text>
<text x="1611.2" y="368.56" font-size="20.68" textLength="8.34" lengthAdjust="spacingAndGlyphs" fill="#222" stroke="#222" stroke-width="0.5">0</text>
<text x="1677.42" y="368.56" font-size="20.68" textLength="8.34" lengthAdjust="spacingAndGlyphs" fill="#222" stroke="#222" stroke-width="0.5">0</text>
<text x="1738.32" y="368.56" font-size="20.68" textLength="18.69" lengthAdjust="spacingAndGlyphs" fill="#222" stroke="#222" stroke-width="0.5">40</text>
<text x="1804.53" y="368.56" font-size="20.68" textLength="18.69" lengthAdjust="spacingAndGlyphs" fill="#222" stroke="#222" stroke-width="0.5">40</text>
<text x="1870.74" y="368.56" font-size="20.68" textLength="18.81" lengthAdjust="spacingAndGlyphs" fill="#222" stroke="#222" stroke-width="0.5">20</text>
<text x="1279.79" y="396.48" font-size="20.36" font-weight="bold" textLength="118.87" lengthAdjust="spacingAndGlyphs" stroke="#000" stroke-width="0.35">Eureka Springs</text>
<text x="1479.05" y="396.78" font-size="20.68" textLength="8.42" lengthAdjust="spacingAndGlyphs" fill="#222" stroke="#222" stroke-width="0.5">5</text>
<text x="1545.26" y="396.78" font-size="20.68" textLength="8.42" lengthAdjust="spacingAndGlyphs" fill="#222" stroke="#222" stroke-width="0.5">5</text>
<text x="1611.2" y="396.78" font-size="20.68" textLength="8.34" lengthAdjust="spacingAndGlyphs" fill="#222" stroke="#222" stroke-width="0.5">0</text>
<text x="1677.42" y="396.78" font-size="20.68" textLength="8.34" lengthAdjust="spacingAndGlyphs" fill="#222" stroke="#222" stroke-width="0.5">0</text>
<text x="1738.4" y="396.78" font-size="20.68" textLength="18.97" lengthAdjust="spacingAndGlyphs" fill="#222" stroke="#222" stroke-width="0.5">15</text>
<text x="1804.53" y="396.78" font-size="20.68" textLength="18.69" lengthAdjust="spacingAndGlyphs" fill="#222" stroke="#222" stroke-width="0.5">40</text>
<text x="1870.86" y="396.78" font-size="20.68" textLength="18.69" lengthAdjust="spacingAndGlyphs" fill="#222" stroke="#222" stroke-width="0.5">40</text>
<text x="1279.76" y="424.7" font-size="20.36" font-weight="bold" textLength="42.69" lengthAdjust="spacingAndGlyphs" stroke="#000" stroke-width="0.35">Hugo</text>
<text x="1479.05" y="425" font-size="20.68" textLength="8.42" lengthAdjust="spacingAndGlyphs" fill="#222" stroke="#222" stroke-width="0.5">5</text>
<text x="1545.26" y="425" font-size="20.68" textLength="8.42" lengthAdjust="spacingAndGlyphs" fill="#222" stroke="#222" stroke-width="0.5">5</text>
<text x="1611.2" y="425" font-size="20.68" textLength="8.34" lengthAdjust="spacingAndGlyphs" fill="#222" stroke="#222" stroke-width="0.5">0</text>
<text x="1677.42" y="425" font-size="20.68" textLength="8.34" lengthAdjust="spacingAndGlyphs" fill="#222" stroke="#222" stroke-width="0.5">0</text>
<text x="1738.43" y="425" font-size="20.68" textLength="18.58" lengthAdjust="spacingAndGlyphs" fill="#222" stroke="#222" stroke-width="0.5">10</text>
<text x="1804.64" y="425" font-size="20.68" textLength="18.94" lengthAdjust="spacingAndGlyphs" fill="#222" stroke="#222" stroke-width="0.5">35</text>
<text x="1870.97" y="425" font-size="20.68" textLength="18.94" lengthAdjust="spacingAndGlyphs" fill="#222" stroke="#222" stroke-width="0.5">35</text>
<text x="1279.74" y="452.92" font-size="20.36" font-weight="bold" textLength="80.96" lengthAdjust="spacingAndGlyphs" stroke="#000" stroke-width="0.35">McAlester</text>
<text x="1479.05" y="453.22" font-size="20.68" textLength="8.42" lengthAdjust="spacingAndGlyphs" fill="#222" stroke="#222" stroke-width="0.5">5</text>
<text x="1545.26" y="453.22" font-size="20.68" textLength="8.42" lengthAdjust="spacingAndGlyphs" fill="#222" stroke="#222" stroke-width="0.5">5</text>
<text x="1611.2" y="453.22" font-size="20.68" textLength="8.34" lengthAdjust="spacingAndGlyphs" fill="#222" stroke="#222" stroke-width="0.5">0</text>
<text x="1677.42" y="453.22" font-size="20.68" textLength="8.34" lengthAdjust="spacingAndGlyphs" fill="#222" stroke="#222" stroke-width="0.5">0</text>
<text x="1738.4" y="453.22" font-size="20.68" textLength="18.97" lengthAdjust="spacingAndGlyphs" fill="#222" stroke="#222" stroke-width="0.5">15</text>
<text x="1804.4" y="453.22" font-size="20.68" textLength="19.2" lengthAdjust="spacingAndGlyphs" fill="#222" stroke="#222" stroke-width="0.5">25</text>
<text x="1870.72" y="453.22" font-size="20.68" textLength="19.2" lengthAdjust="spacingAndGlyphs" fill="#222" stroke="#222" stroke-width="0.5">25</text>
<text x="1279.69" y="481.14" font-size="20.36" font-weight="bold" textLength="50.1" lengthAdjust="spacingAndGlyphs" stroke="#000" stroke-width="0.35">Miami</text>
<text x="1473.46" y="481.44" font-size="20.68" textLength="18.69" lengthAdjust="spacingAndGlyphs" fill="#222" stroke="#222" stroke-width="0.5">40</text>
<text x="1539.78" y="481.44" font-size="20.68" textLength="18.58" lengthAdjust="spacingAndGlyphs" fill="#222" stroke="#222" stroke-width="0.5">10</text>
<text x="1611.2" y="481.44" font-size="20.68" textLength="8.34" lengthAdjust="spacingAndGlyphs" fill="#222" stroke="#222" stroke-width="0.5">0</text>
<text x="1677.42" y="481.44" font-size="20.68" textLength="8.34" lengthAdjust="spacingAndGlyphs" fill="#222" stroke="#222" stroke-width="0.5">0</text>
<text x="1738.44" y="481.44" font-size="20.68" textLength="18.56" lengthAdjust="spacingAndGlyphs" fill="#222" stroke="#222" stroke-width="0.5">30</text>
<text x="1804.53" y="481.44" font-size="20.68" textLength="19.06" lengthAdjust="spacingAndGlyphs" fill="#222" stroke="#222" stroke-width="0.5">45</text>
<text x="1870.72" y="481.44" font-size="20.68" textLength="19.2" lengthAdjust="spacingAndGlyphs" fill="#222" stroke="#222" stroke-width="0.5">25</text>
<text x="1279.74" y="509.36" font-size="20.36" font-weight="bold" textLength="82.9" lengthAdjust="spacingAndGlyphs" stroke="#000" stroke-width="0.35">Muskogee</text>
<text x="1473.54" y="509.66" font-size="20.68" textLength="18.97" lengthAdjust="spacingAndGlyphs" fill="#222" stroke="#222" stroke-width="0.5">15</text>
<text x="1545.26" y="509.66" font-size="20.68" textLength="8.42" lengthAdjust="spacingAndGlyphs" fill="#222" stroke="#222" stroke-width="0.5">5</text>
<text x="1611.2" y="509.66" font-size="20.68" textLength="8.34" lengthAdjust="spacingAndGlyphs" fill="#222" stroke="#222" stroke-width="0.5">0</text>
<text x="1677.42" y="509.66" font-size="20.68" textLength="8.34" lengthAdjust="spacingAndGlyphs" fill="#222" stroke="#222" stroke-width="0.5">0</text>
<text x="1738.2" y="509.66" font-size="20.68" textLength="18.81" lengthAdjust="spacingAndGlyphs" fill="#222" stroke="#222" stroke-width="0.5">20</text>
<text x="1804.66" y="509.66" font-size="20.68" textLength="18.56" lengthAdjust="spacingAndGlyphs" fill="#222" stroke="#222" stroke-width="0.5">30</text>
<text x="1870.72" y="509.66" font-size="20.68" textLength="19.2" lengthAdjust="spacingAndGlyphs" fill="#222" stroke="#222" stroke-width="0.5">25</text>
<text x="1280.2" y="537.58" font-size="20.36" font-weight="bold" textLength="65.17" lengthAdjust="spacingAndGlyphs" stroke="#000" stroke-width="0.35">Okemah</text>
<text x="1473.54" y="537.89" font-size="20.68" textLength="18.97" lengthAdjust="spacingAndGlyphs" fill="#222" stroke="#222" stroke-width="0.5">15</text>
<text x="1545.26" y="537.89" font-size="20.68" textLength="8.42" lengthAdjust="spacingAndGlyphs" fill="#222" stroke="#222" stroke-width="0.5">5</text>
<text x="1611.2" y="537.89" font-size="20.68" textLength="8.34" lengthAdjust="spacingAndGlyphs" fill="#222" stroke="#222" stroke-width="0.5">0</text>
<text x="1677.42" y="537.89" font-size="20.68" textLength="8.34" lengthAdjust="spacingAndGlyphs" fill="#222" stroke="#222" stroke-width="0.5">0</text>
<text x="1738.2" y="537.89" font-size="20.68" textLength="18.81" lengthAdjust="spacingAndGlyphs" fill="#222" stroke="#222" stroke-width="0.5">20</text>
<text x="1804.66" y="537.89" font-size="20.68" textLength="18.56" lengthAdjust="spacingAndGlyphs" fill="#222" stroke="#222" stroke-width="0.5">30</text>
<text x="1870.74" y="537.89" font-size="20.68" textLength="18.81" lengthAdjust="spacingAndGlyphs" fill="#222" stroke="#222" stroke-width="0.5">20</text>
<text x="1280.2" y="565.81" font-size="20.36" font-weight="bold" textLength="45.6" lengthAdjust="spacingAndGlyphs" stroke="#000" stroke-width="0.35">Ozark</text>
<text x="1479.05" y="566.11" font-size="20.68" textLength="8.42" lengthAdjust="spacingAndGlyphs" fill="#222" stroke="#222" stroke-width="0.5">5</text>
<text x="1545.26" y="566.11" font-size="20.68" textLength="8.42" lengthAdjust="spacingAndGlyphs" fill="#222" stroke="#222" stroke-width="0.5">5</text>
<text x="1611.2" y="566.11" font-size="20.68" textLength="8.34" lengthAdjust="spacingAndGlyphs" fill="#222" stroke="#222" stroke-width="0.5">0</text>
<text x="1677.42" y="566.11" font-size="20.68" textLength="8.34" lengthAdjust="spacingAndGlyphs" fill="#222" stroke="#222" stroke-width="0.5">0</text>
<text x="1738.43" y="566.11" font-size="20.68" textLength="18.58" lengthAdjust="spacingAndGlyphs" fill="#222" stroke="#222" stroke-width="0.5">10</text>
<text x="1804.53" y="566.11" font-size="20.68" textLength="18.69" lengthAdjust="spacingAndGlyphs" fill="#222" stroke="#222" stroke-width="0.5">40</text>
<text x="1870.86" y="566.11" font-size="20.68" textLength="18.69" lengthAdjust="spacingAndGlyphs" fill="#222" stroke="#222" stroke-width="0.5">40</text>
<text x="1279.79" y="594.03" font-size="20.36" font-weight="bold" textLength="55.75" lengthAdjust="spacingAndGlyphs" stroke="#000" stroke-width="0.35">Rogers</text>
<text x="1479.05" y="594.33" font-size="20.68" textLength="8.42" lengthAdjust="spacingAndGlyphs" fill="#222" stroke="#222" stroke-width="0.5">5</text>
<text x="1545.26" y="594.33" font-size="20.68" textLength="8.42" lengthAdjust="spacingAndGlyphs" fill="#222" stroke="#222" stroke-width="0.5">5</text>
<text x="1611.2" y="594.33" font-size="20.68" textLength="8.34" lengthAdjust="spacingAndGlyphs" fill="#222" stroke="#222" stroke-width="0.5">0</text>
<text x="1677.42" y="594.33" font-size="20.68" textLength="8.34" lengthAdjust="spacingAndGlyphs" fill="#222" stroke="#222" stroke-width="0.5">0</text>
<text x="1738.2" y="594.33" font-size="20.68" textLength="18.81" lengthAdjust="spacingAndGlyphs" fill="#222" stroke="#222" stroke-width="0.5">20</text>
<text x="1804.53" y="594.33" font-size="20.68" textLength="18.69" lengthAdjust="spacingAndGlyphs" fill="#222" stroke="#222" stroke-width="0.5">40</text>
<text x="1870.97" y="594.33" font-size="20.68" textLength="18.94" lengthAdjust="spacingAndGlyphs" fill="#222" stroke="#222" stroke-width="0.5">35</text>
<text x="1280.69" y="622.25" font-size="20.36" font-weight="bold" textLength="82.1" lengthAdjust="spacingAndGlyphs" stroke="#000" stroke-width="0.35">Tahlequah</text>
<text x="1473.57" y="622.55" font-size="20.68" textLength="18.58" lengthAdjust="spacingAndGlyphs" fill="#222" stroke="#222" stroke-width="0.5">10</text>
<text x="1545.26" y="622.55" font-size="20.68" textLength="8.42" lengthAdjust="spacingAndGlyphs" fill="#222" stroke="#222" stroke-width="0.5">5</text>
<text x="1611.2" y="622.55" font-size="20.68" textLength="8.34" lengthAdjust="spacingAndGlyphs" fill="#222" stroke="#222" stroke-width="0.5">0</text>
<text x="1677.42" y="622.55" font-size="20.68" textLength="8.34" lengthAdjust="spacingAndGlyphs" fill="#222" stroke="#222" stroke-width="0.5">0</text>
<text x="1738.2" y="622.55" font-size="20.68" textLength="18.81" lengthAdjust="spacingAndGlyphs" fill="#222" stroke="#222" stroke-width="0.5">20</text>
<text x="1804.64" y="622.55" font-size="20.68" textLength="18.94" lengthAdjust="spacingAndGlyphs" fill="#222" stroke="#222" stroke-width="0.5">35</text>
<text x="1870.98" y="622.55" font-size="20.68" textLength="18.56" lengthAdjust="spacingAndGlyphs" fill="#222" stroke="#222" stroke-width="0.5">30</text>
<rect x="1404.93" y="634.64" width="77.02" height="12.97" fill="#ffffff"/>
<rect x="1481.75" y="634.64" width="77.02" height="12.97" fill="#e0f6d6"/>
<rect x="1558.57" y="634.64" width="77.02" height="12.97" fill="#d3f0c7"/>
<rect x="1635.4" y="634.64" width="77.02" height="12.97" fill="#bbe9ac"/>
<rect x="1712.22" y="634.64" width="77.02" height="12.97" fill="#94dc7a"/>
<rect x="1404.93" y="634.64" width="384.12" height="12.97" fill="none" stroke="#555" stroke-width="1"/>
<rect x="1481.15" y="634.64" width="1.2" height="18.3" fill="#222"/>
<text x="1481.75" y="663.99" font-size="9.75" text-anchor="middle" fill="#222" stroke="#222" stroke-width="0.25">10</text>
<rect x="1557.97" y="634.64" width="1.2" height="18.3" fill="#222"/>
<text x="1558.57" y="663.99" font-size="9.75" text-anchor="middle" fill="#222" stroke="#222" stroke-width="0.25">20</text>
<rect x="1634.8" y="634.64" width="1.2" height="18.3" fill="#222"/>
<text x="1635.4" y="663.99" font-size="9.75" text-anchor="middle" fill="#222" stroke="#222" stroke-width="0.25">30</text>
<rect x="1711.62" y="634.64" width="1.2" height="18.3" fill="#222"/>
<text x="1712.22" y="663.99" font-size="9.75" text-anchor="middle" fill="#222" stroke="#222" stroke-width="0.25">40</text>
<rect x="1788.44" y="634.64" width="1.2" height="18.3" fill="#222"/>
<text x="1789.04" y="663.99" font-size="9.75" text-anchor="middle" fill="#222" stroke="#222" stroke-width="0.25">50</text>
<text x="1484.46" y="678.27" font-size="14.55" font-weight="bold" textLength="225.33" lengthAdjust="spacingAndGlyphs" fill="#111">Probability of Precipitation Forecast (%)</text>
<text x="1280" y="696.67" font-size="15.59" textLength="632.54" lengthAdjust="spacingAndGlyphs" fill="#333">Created: 1 am CDT Mon 10/13/2025  |  Values are maximums over the period beginning at the time shown.</text>
</g>
<text y="759.8" font-size="41" font-weight="bold" fill="#0b4596" stroke="#0b4596" stroke-width="0.9" stroke-linejoin="round"><tspan x="171.75" textLength="276.11" lengthAdjust="spacingAndGlyphs">Unseasonably</tspan> <tspan x="460.37" textLength="110.91" lengthAdjust="spacingAndGlyphs">warm</tspan> <tspan x="583.44" textLength="262.51" lengthAdjust="spacingAndGlyphs">temperatures</tspan> <tspan x="855.92" textLength="173.75" lengthAdjust="spacingAndGlyphs">continue</tspan> <tspan x="1040.65" textLength="155.46" lengthAdjust="spacingAndGlyphs">through</tspan> <tspan x="1206.11" textLength="85.55" lengthAdjust="spacingAndGlyphs">next</tspan> <tspan x="1304.57" textLength="177.04" lengthAdjust="spacingAndGlyphs">weekend</tspan></text>
<path d="M106.2 739.1 H131.2 L121.8 729.3 H131.6 L145.2 742.75 L131.6 756.2 H121.8 L131.2 746.4 H106.2 Z" fill="#0b4596"/>
<text y="810.9" font-size="41" font-weight="bold" fill="#0b4596" stroke="#0b4596" stroke-width="0.9" stroke-linejoin="round"><tspan x="170.34" textLength="32.29" lengthAdjust="spacingAndGlyphs">A</tspan> <tspan x="211.16" textLength="140.59" lengthAdjust="spacingAndGlyphs">chance</tspan> <tspan x="362.21" textLength="42.05" lengthAdjust="spacingAndGlyphs">of</tspan> <tspan x="412.72" textLength="165.1" lengthAdjust="spacingAndGlyphs">showers</tspan> <tspan x="588.96" textLength="107.81" lengthAdjust="spacingAndGlyphs">today</tspan> <tspan x="710.58" textLength="86.97" lengthAdjust="spacingAndGlyphs">with</tspan> <tspan x="807.04" textLength="63.05" lengthAdjust="spacingAndGlyphs">the</tspan> <tspan x="881.44" textLength="185.56" lengthAdjust="spacingAndGlyphs">approach</tspan> <tspan x="1076.66" textLength="43.3" lengthAdjust="spacingAndGlyphs">of</tspan> <tspan x="1128.09" textLength="20.13" lengthAdjust="spacingAndGlyphs">a</tspan> <tspan x="1162.57" textLength="101.64" lengthAdjust="spacingAndGlyphs">weak</tspan> <tspan x="1276.24" textLength="84.94" lengthAdjust="spacingAndGlyphs">cold</tspan> <tspan x="1370.64" textLength="95.23" lengthAdjust="spacingAndGlyphs">front</tspan></text>
<path d="M106.2 790.2 H131.2 L121.8 780.4 H131.6 L145.2 793.85 L131.6 807.3 H121.8 L131.2 797.5 H106.2 Z" fill="#0b4596"/>
<text y="862" font-size="41" font-weight="bold" fill="#0b4596" stroke="#0b4596" stroke-width="0.9" stroke-linejoin="round"><tspan x="170.34" textLength="32.29" lengthAdjust="spacingAndGlyphs">A</tspan> <tspan x="211.16" textLength="140.59" lengthAdjust="spacingAndGlyphs">chance</tspan> <tspan x="362.21" textLength="42.05" lengthAdjust="spacingAndGlyphs">of</tspan> <tspan x="412.72" textLength="165.1" lengthAdjust="spacingAndGlyphs">showers</tspan> <tspan x="588.21" textLength="75.33" lengthAdjust="spacingAndGlyphs">and</tspan> <tspan x="673.7" textLength="290.04" lengthAdjust="spacingAndGlyphs">thunderstorms</tspan> <tspan x="975.72" textLength="122.35" lengthAdjust="spacingAndGlyphs">Friday</tspan> <tspan x="1110.95" textLength="155.46" lengthAdjust="spacingAndGlyphs">through</tspan> <tspan x="1276.89" textLength="145.38" lengthAdjust="spacingAndGlyphs">Sunday</tspan> <tspan x="1434.78" textLength="44.41" lengthAdjust="spacingAndGlyphs">as</tspan> <tspan x="1490.04" textLength="48.39" lengthAdjust="spacingAndGlyphs">an</tspan> <tspan x="1549.17" textLength="111.29" lengthAdjust="spacingAndGlyphs">upper</tspan> <tspan x="1670.39" textLength="97.36" lengthAdjust="spacingAndGlyphs">level</tspan></text>
<path d="M106.2 841.3 H131.2 L121.8 831.5 H131.6 L145.2 844.95 L131.6 858.4 H121.8 L131.2 848.6 H106.2 Z" fill="#0b4596"/>
<text y="913.1" font-size="41" font-weight="bold" fill="#0b4596" stroke="#0b4596" stroke-width="0.9" stroke-linejoin="round"><tspan x="170.28" textLength="231.27" lengthAdjust="spacingAndGlyphs">disturbance</tspan> <tspan x="414.46" textLength="129.47" lengthAdjust="spacingAndGlyphs">moves</tspan> <tspan x="554.07" textLength="75.49" lengthAdjust="spacingAndGlyphs">into</tspan> <tspan x="643.44" textLength="62.95" lengthAdjust="spacingAndGlyphs">the</tspan> <tspan x="716.16" textLength="181.56" lengthAdjust="spacingAndGlyphs">Southern</tspan> <tspan x="908.02" textLength="120.41" lengthAdjust="spacingAndGlyphs">Plains</tspan></text>
<rect x="0" y="979.7" width="1920" height="14.5" fill="url(#g2)"/>
<rect x="0" y="993.8" width="1920" height="86.2" fill="#262626"/>
<text y="1030.5" font-size="29" fill="#fff"><tspan x="143.72" textLength="743.84" lengthAdjust="spacingAndGlyphs">NATIONAL WEATHER SERVICE TULSA OKLAHOMA</tspan></text>
<text y="1069.5" font-size="26.5" font-weight="bold" fill="#fff" stroke="#fff" stroke-width="0.5"><tspan x="229.55" textLength="101.74" lengthAdjust="spacingAndGlyphs">Follow:</tspan></text>
<text y="1067.3" font-size="26.5" fill="#8fb9e6"><tspan x="409.78" textLength="162.72" lengthAdjust="spacingAndGlyphs">@NWSTulsa</tspan></text>
<g fill="none" stroke="#fff"><path d="M335.9 1044.7H343.2L361.5 1071.4H354.1Z" stroke-width="1.6" stroke-linejoin="miter"/><path d="M360.9 1043.9L351 1055.2M347 1059.9L336.2 1072.2" stroke-width="2.1"/></g>
<g><circle cx="384.05" cy="1058.05" r="14.3" fill="#fff"/><path d="M382 1072.4V1062.1H378.4V1058.7H382V1055.5C382 1051.6 384.3 1049.6 387.6 1049.6 388.8 1049.6 390.1 1049.8 390.1 1049.8V1053H388.7C387.2 1053 386.7 1053.9 386.7 1055V1058.7H389.9L389.4 1062.1H386.7V1072.4Z" fill="#262626"/></g>
<g transform="translate(87.1 1040.7)">
<circle r="35.1" fill="#fff"/>
<clipPath id="nwsclip"><circle r="21.6"/></clipPath>
<circle r="21.6" fill="#31ade1"/>
<g clip-path="url(#nwsclip)">
<line x1="0" y1="-6" x2="-20.78" y2="-12" stroke="#00009c" stroke-width="0.8"/>
<line x1="0" y1="-6" x2="-12" y2="-20.78" stroke="#00009c" stroke-width="0.8"/>
<line x1="0" y1="-6" x2="0" y2="-24" stroke="#00009c" stroke-width="0.8"/>
<line x1="0" y1="-6" x2="12" y2="-20.78" stroke="#00009c" stroke-width="0.8"/>
<line x1="0" y1="-6" x2="20.78" y2="-12" stroke="#00009c" stroke-width="0.8"/>
<circle cx="-15" cy="9.5" r="4.6" fill="#fff"/>
<circle cx="-7" cy="12" r="4.6" fill="#fff"/>
<circle cx="1" cy="12.6" r="4.6" fill="#fff"/>
<circle cx="9" cy="11.6" r="4.6" fill="#fff"/>
<circle cx="16" cy="8.6" r="4.2" fill="#fff"/>
</g>
<circle r="21.6" fill="none" stroke="#00009c" stroke-width="0.9"/>
<ellipse cx="0" cy="0.5" rx="20" ry="9" fill="#00009c"/>
<ellipse cx="-18.5" cy="-2.5" rx="5.5" ry="5.5" fill="#00009c"/>
<ellipse cx="-19.5" cy="4" rx="4.6" ry="4.6" fill="#00009c"/>
<ellipse cx="19" cy="-2" rx="5.6" ry="5.6" fill="#00009c"/>
<ellipse cx="14" cy="5.5" rx="5" ry="5" fill="#00009c"/>
<ellipse cx="-7" cy="-7" rx="6" ry="6" fill="#00009c"/>
<ellipse cx="6" cy="-8.2" rx="7" ry="6.5" fill="#00009c"/>
<ellipse cx="13" cy="-5.5" rx="5" ry="5" fill="#00009c"/>
<ellipse cx="-12" cy="6.5" rx="5" ry="4.6" fill="#00009c"/>
<ellipse cx="-2" cy="8.3" rx="5" ry="4.2" fill="#00009c"/>
<ellipse cx="8" cy="7.3" rx="5" ry="4.6" fill="#00009c"/>
<path d="M-17.4 -18.48 L-11.1 -18.11 L-4.06 -10.33 L-6.29 -9.22 L2.6 -1.81 L0.38 -0.33 L10.75 8.56 L9.27 9.67 L16.68 17.45 L3.34 9.67 L5.2 8.56 L-3.32 0.41 L-1.1 -1.07 L-9.62 -8.85 L-7.4 -10.18Z" fill="#fff" stroke="#00009c" stroke-width="0.45" stroke-linejoin="miter"/>
<path id="nwsarc" d="M-14.86 19.73 A24.7 24.7 0 1 1 12.83 21.11" fill="none"/>
<text font-size="8.5" font-weight="bold" fill="#f5161f" stroke="#f5161f" stroke-width="0.4" textLength="125.75" lengthAdjust="spacingAndGlyphs"><textPath href="#nwsarc" textLength="125.75" lengthAdjust="spacingAndGlyphs">NATIONAL WEATHER SERVICE</textPath></text>
<polygon points="-0.36 27.37 0.2 28.9 1.83 28.96 0.54 29.96 0.99 31.53 -0.36 30.62 -1.71 31.53 -1.26 29.96 -2.55 28.96 -0.92 28.9" fill="#f5161f"/>
<path d="M-10.01 28.71 l1.5 -1.1 l1.5 1.1 l-1.5 1.1z" fill="#2222bb"/>
<path d="M6.88 28.71 l1.5 -1.1 l1.5 1.1 l-1.5 1.1z" fill="#2222bb"/>
</g>
</svg>
</body></html>
